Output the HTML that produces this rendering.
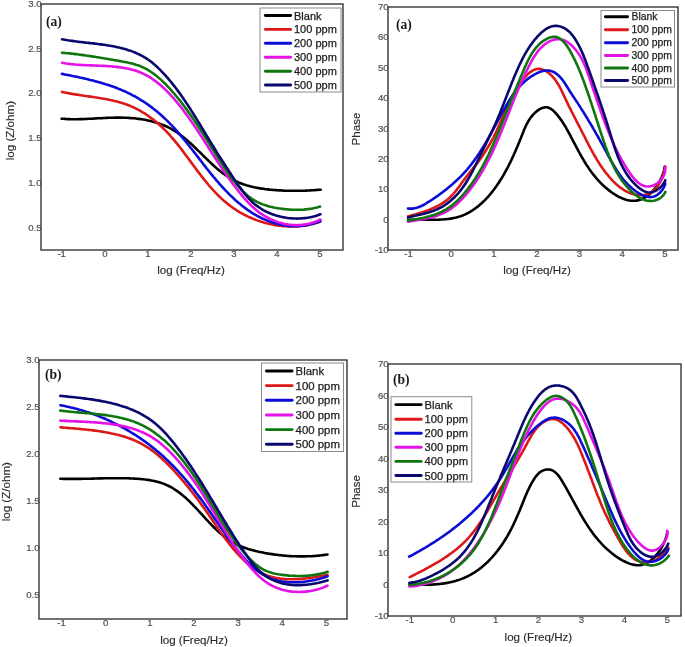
<!DOCTYPE html><html><head><meta charset="utf-8"><style>html,body{margin:0;padding:0;background:#fff;width:685px;height:647px;overflow:hidden}svg{display:block;filter:blur(0.45px)}text{font-family:"Liberation Sans",sans-serif}.t{font-size:9.6px;fill:#505050;stroke:#505050;stroke-width:0.2px}.ax{font-size:11.6px;fill:#2a2a2a;stroke:#2a2a2a;stroke-width:0.15px}.lg{font-size:11px;fill:#1c1c1c;stroke:#1c1c1c;stroke-width:0.25px}.ab{font-family:"Liberation Serif",serif;font-weight:bold;font-size:13.6px;fill:#1a1a1a}</style></head><body>
<svg width="685" height="647" viewBox="0 0 685 647">
<path d="M61.6,118.7 L63.1,118.8 L64.6,118.9 L66.1,119.0 L67.6,119.1 L69.1,119.1 L70.6,119.2 L72.1,119.2 L73.6,119.2 L75.1,119.2 L76.6,119.2 L78.1,119.2 L79.6,119.1 L81.1,119.1 L82.6,119.1 L84.1,119.0 L85.6,119.0 L87.2,118.9 L88.7,118.8 L90.2,118.7 L91.7,118.7 L93.2,118.6 L94.7,118.5 L96.2,118.4 L97.7,118.3 L99.3,118.3 L100.8,118.2 L102.3,118.1 L103.8,118.0 L105.3,118.0 L106.8,117.9 L108.4,117.8 L109.9,117.8 L111.4,117.7 L112.9,117.7 L114.5,117.6 L116.0,117.6 L117.5,117.6 L119.0,117.6 L120.6,117.6 L122.1,117.6 L123.6,117.7 L125.1,117.7 L126.7,117.8 L128.2,117.9 L129.7,118.0 L131.2,118.1 L132.8,118.2 L134.3,118.3 L135.8,118.5 L137.3,118.7 L138.8,118.9 L140.3,119.1 L141.8,119.3 L143.3,119.5 L144.8,119.8 L146.3,120.1 L147.8,120.4 L149.3,120.7 L150.8,121.1 L152.2,121.5 L153.7,121.9 L155.1,122.3 L156.5,122.7 L158.0,123.2 L159.4,123.6 L160.8,124.2 L162.2,124.7 L163.6,125.2 L164.9,125.8 L166.3,126.4 L167.6,127.0 L168.9,127.7 L170.3,128.4 L171.6,129.1 L172.8,129.8 L174.1,130.6 L175.4,131.4 L176.6,132.2 L177.8,133.0 L179.0,133.9 L180.3,134.8 L181.4,135.7 L182.6,136.6 L183.8,137.5 L185.0,138.5 L186.1,139.5 L187.3,140.4 L188.4,141.4 L189.5,142.4 L190.7,143.5 L191.8,144.5 L192.9,145.5 L194.0,146.6 L195.1,147.7 L196.2,148.7 L197.3,149.8 L198.4,150.9 L199.5,151.9 L200.6,153.0 L201.7,154.1 L202.8,155.2 L203.9,156.3 L205.0,157.3 L206.1,158.4 L207.1,159.5 L208.3,160.5 L209.4,161.6 L210.5,162.7 L211.6,163.7 L212.7,164.7 L213.8,165.8 L215.0,166.8 L216.1,167.8 L217.2,168.7 L218.4,169.7 L219.6,170.7 L220.7,171.6 L221.9,172.5 L223.1,173.4 L224.3,174.3 L225.5,175.2 L226.8,176.0 L228.0,176.8 L229.2,177.6 L230.5,178.4 L231.8,179.1 L233.1,179.8 L234.4,180.5 L235.7,181.2 L237.1,181.8 L238.5,182.4 L239.8,182.9 L241.2,183.5 L242.6,184.0 L244.1,184.5 L245.5,184.9 L246.9,185.4 L248.4,185.8 L249.8,186.2 L251.3,186.6 L252.8,186.9 L254.3,187.3 L255.8,187.6 L257.3,187.9 L258.8,188.1 L260.3,188.4 L261.8,188.6 L263.4,188.8 L264.9,189.1 L266.4,189.2 L268.0,189.4 L269.5,189.6 L271.1,189.7 L272.6,189.9 L274.1,190.0 L275.7,190.1 L277.2,190.3 L278.8,190.4 L280.3,190.4 L281.9,190.5 L283.4,190.6 L284.9,190.7 L286.5,190.7 L288.0,190.8 L289.5,190.8 L291.1,190.8 L292.6,190.8 L294.1,190.8 L295.6,190.8 L297.1,190.8 L298.7,190.8 L300.2,190.8 L301.7,190.8 L303.2,190.7 L304.7,190.7 L306.2,190.6 L307.7,190.5 L309.2,190.5 L310.6,190.4 L312.1,190.3 L313.6,190.2 L315.0,190.1 L316.5,190.0 L318.0,189.9 L319.4,189.8 L320.8,189.7" fill="none" stroke="#000000" stroke-width="2.6" stroke-linecap="round" stroke-linejoin="round"/>
<path d="M62.0,91.9 L63.4,92.2 L64.8,92.5 L66.3,92.8 L67.7,93.1 L69.2,93.4 L70.7,93.6 L72.1,93.9 L73.6,94.1 L75.1,94.4 L76.6,94.6 L78.1,94.8 L79.6,95.1 L81.1,95.3 L82.6,95.5 L84.1,95.7 L85.6,96.0 L87.1,96.2 L88.6,96.4 L90.2,96.6 L91.7,96.8 L93.2,97.0 L94.7,97.3 L96.2,97.5 L97.7,97.7 L99.3,98.0 L100.8,98.2 L102.3,98.5 L103.8,98.7 L105.3,99.0 L106.8,99.3 L108.3,99.6 L109.8,99.9 L111.3,100.2 L112.8,100.5 L114.2,100.9 L115.7,101.2 L117.2,101.6 L118.6,102.0 L120.1,102.4 L121.5,102.8 L122.9,103.3 L124.4,103.8 L125.8,104.2 L127.2,104.7 L128.6,105.3 L130.0,105.8 L131.3,106.4 L132.7,107.0 L134.1,107.6 L135.4,108.3 L136.7,108.9 L138.0,109.6 L139.4,110.3 L140.7,111.0 L141.9,111.8 L143.2,112.6 L144.5,113.3 L145.7,114.2 L147.0,115.0 L148.2,115.8 L149.4,116.7 L150.6,117.6 L151.8,118.5 L153.0,119.4 L154.2,120.3 L155.3,121.2 L156.5,122.2 L157.6,123.2 L158.8,124.2 L159.9,125.2 L161.0,126.2 L162.1,127.2 L163.2,128.2 L164.2,129.3 L165.3,130.4 L166.3,131.4 L167.4,132.5 L168.4,133.6 L169.4,134.7 L170.4,135.9 L171.4,137.0 L172.4,138.1 L173.4,139.3 L174.3,140.4 L175.3,141.6 L176.3,142.8 L177.2,143.9 L178.2,145.1 L179.1,146.3 L180.0,147.5 L181.0,148.7 L181.9,149.9 L182.8,151.1 L183.7,152.3 L184.6,153.6 L185.5,154.8 L186.5,156.0 L187.4,157.2 L188.3,158.4 L189.2,159.7 L190.1,160.9 L191.0,162.1 L191.9,163.4 L192.8,164.6 L193.7,165.8 L194.6,167.0 L195.5,168.3 L196.4,169.5 L197.3,170.7 L198.2,171.9 L199.1,173.1 L200.1,174.3 L201.0,175.5 L201.9,176.7 L202.9,177.9 L203.8,179.1 L204.8,180.3 L205.7,181.5 L206.7,182.7 L207.6,183.8 L208.6,185.0 L209.6,186.1 L210.6,187.3 L211.6,188.4 L212.6,189.5 L213.6,190.6 L214.6,191.7 L215.7,192.8 L216.7,193.9 L217.8,195.0 L218.8,196.0 L219.9,197.0 L221.0,198.1 L222.1,199.1 L223.2,200.1 L224.3,201.1 L225.5,202.0 L226.6,203.0 L227.8,203.9 L228.9,204.9 L230.1,205.8 L231.3,206.7 L232.5,207.5 L233.7,208.4 L235.0,209.2 L236.2,210.0 L237.5,210.8 L238.8,211.6 L240.0,212.4 L241.3,213.1 L242.7,213.9 L244.0,214.6 L245.3,215.3 L246.7,215.9 L248.0,216.6 L249.4,217.2 L250.8,217.8 L252.2,218.4 L253.6,219.0 L255.0,219.5 L256.4,220.1 L257.8,220.6 L259.2,221.1 L260.7,221.6 L262.1,222.0 L263.6,222.4 L265.0,222.9 L266.5,223.3 L268.0,223.6 L269.5,224.0 L271.0,224.3 L272.4,224.6 L273.9,224.9 L275.4,225.1 L276.9,225.4 L278.4,225.6 L280.0,225.8 L281.5,226.0 L283.0,226.1 L284.5,226.2 L286.0,226.3 L287.5,226.4 L289.0,226.5 L290.6,226.5 L292.1,226.5 L293.6,226.5 L295.1,226.4 L296.6,226.4 L298.1,226.3 L299.6,226.2 L301.1,226.0 L302.6,225.8 L304.1,225.6 L305.6,225.4 L307.0,225.2 L308.5,224.9 L310.0,224.6 L311.4,224.3 L312.9,223.9 L314.3,223.5 L315.8,223.1 L317.2,222.7 L318.6,222.2 L320.0,221.7" fill="none" stroke="#dd1818" stroke-width="2.6" stroke-linecap="round" stroke-linejoin="round"/>
<path d="M61.9,73.9 L63.4,74.1 L64.8,74.4 L66.3,74.7 L67.8,75.0 L69.2,75.3 L70.7,75.6 L72.2,75.9 L73.7,76.2 L75.1,76.5 L76.6,76.8 L78.1,77.1 L79.6,77.5 L81.1,77.8 L82.5,78.1 L84.0,78.4 L85.5,78.8 L87.0,79.1 L88.5,79.5 L90.0,79.9 L91.4,80.2 L92.9,80.6 L94.4,81.0 L95.9,81.4 L97.4,81.8 L98.8,82.2 L100.3,82.6 L101.8,83.0 L103.2,83.5 L104.7,83.9 L106.1,84.4 L107.6,84.8 L109.0,85.3 L110.5,85.8 L111.9,86.3 L113.4,86.8 L114.8,87.3 L116.2,87.8 L117.6,88.4 L119.0,89.0 L120.4,89.5 L121.8,90.1 L123.2,90.7 L124.6,91.3 L126.0,91.9 L127.4,92.6 L128.7,93.2 L130.1,93.9 L131.4,94.6 L132.7,95.3 L134.1,96.0 L135.4,96.7 L136.7,97.5 L138.0,98.2 L139.3,99.0 L140.6,99.8 L141.8,100.6 L143.1,101.4 L144.4,102.2 L145.6,103.0 L146.9,103.9 L148.1,104.7 L149.3,105.6 L150.5,106.5 L151.7,107.4 L152.9,108.3 L154.1,109.2 L155.3,110.2 L156.4,111.1 L157.6,112.1 L158.7,113.0 L159.9,114.0 L161.0,115.0 L162.1,116.0 L163.2,117.0 L164.3,118.0 L165.4,119.1 L166.5,120.1 L167.6,121.1 L168.6,122.2 L169.7,123.3 L170.7,124.3 L171.8,125.4 L172.8,126.5 L173.8,127.6 L174.8,128.7 L175.8,129.8 L176.8,130.9 L177.8,132.1 L178.8,133.2 L179.8,134.3 L180.7,135.5 L181.7,136.6 L182.7,137.8 L183.6,138.9 L184.6,140.1 L185.5,141.3 L186.5,142.4 L187.4,143.6 L188.3,144.8 L189.3,146.0 L190.2,147.2 L191.1,148.3 L192.1,149.5 L193.0,150.7 L193.9,151.9 L194.9,153.1 L195.8,154.3 L196.7,155.5 L197.6,156.7 L198.6,157.9 L199.5,159.1 L200.4,160.3 L201.3,161.5 L202.3,162.7 L203.2,164.0 L204.1,165.2 L205.1,166.4 L206.0,167.6 L207.0,168.8 L207.9,170.0 L208.9,171.1 L209.8,172.3 L210.8,173.5 L211.7,174.7 L212.7,175.9 L213.7,177.1 L214.7,178.2 L215.7,179.4 L216.6,180.6 L217.6,181.7 L218.7,182.9 L219.7,184.1 L220.7,185.2 L221.7,186.3 L222.8,187.5 L223.8,188.6 L224.8,189.7 L225.9,190.8 L227.0,191.9 L228.0,193.0 L229.1,194.1 L230.2,195.2 L231.3,196.2 L232.4,197.3 L233.5,198.3 L234.6,199.4 L235.8,200.4 L236.9,201.4 L238.1,202.4 L239.2,203.3 L240.4,204.3 L241.5,205.2 L242.7,206.2 L243.9,207.1 L245.1,208.0 L246.3,208.9 L247.5,209.8 L248.8,210.6 L250.0,211.4 L251.2,212.3 L252.5,213.1 L253.8,213.8 L255.0,214.6 L256.3,215.3 L257.6,216.1 L258.9,216.8 L260.2,217.4 L261.6,218.1 L262.9,218.7 L264.3,219.3 L265.6,219.9 L267.0,220.5 L268.4,221.0 L269.8,221.6 L271.1,222.1 L272.6,222.5 L274.0,223.0 L275.4,223.4 L276.8,223.8 L278.3,224.1 L279.7,224.5 L281.2,224.8 L282.7,225.1 L284.1,225.3 L285.6,225.5 L287.1,225.7 L288.6,225.9 L290.1,226.0 L291.6,226.1 L293.1,226.1 L294.6,226.2 L296.1,226.2 L297.6,226.1 L299.1,226.0 L300.6,225.9 L302.2,225.8 L303.7,225.6 L305.2,225.4 L306.8,225.1 L308.3,224.8 L309.8,224.5 L311.3,224.1 L312.9,223.7 L314.4,223.3 L315.9,222.8 L317.4,222.2 L319.0,221.7 L320.5,221.0" fill="none" stroke="#0c0cd8" stroke-width="2.6" stroke-linecap="round" stroke-linejoin="round"/>
<path d="M62.1,62.7 L63.5,63.0 L64.9,63.3 L66.4,63.5 L67.8,63.7 L69.3,63.9 L70.7,64.1 L72.2,64.2 L73.7,64.4 L75.2,64.5 L76.7,64.7 L78.2,64.8 L79.7,64.9 L81.2,65.0 L82.7,65.0 L84.3,65.1 L85.8,65.2 L87.3,65.3 L88.9,65.3 L90.4,65.4 L91.9,65.4 L93.5,65.5 L95.0,65.5 L96.6,65.6 L98.1,65.7 L99.7,65.7 L101.2,65.8 L102.8,65.9 L104.3,65.9 L105.9,66.0 L107.4,66.1 L109.0,66.2 L110.5,66.3 L112.1,66.4 L113.6,66.6 L115.1,66.7 L116.6,66.9 L118.2,67.1 L119.7,67.3 L121.2,67.5 L122.7,67.7 L124.2,67.9 L125.7,68.2 L127.2,68.5 L128.7,68.8 L130.1,69.2 L131.6,69.5 L133.0,69.9 L134.5,70.3 L135.9,70.8 L137.3,71.3 L138.7,71.8 L140.0,72.3 L141.4,72.9 L142.7,73.5 L144.1,74.1 L145.4,74.8 L146.7,75.5 L148.0,76.2 L149.2,76.9 L150.5,77.7 L151.7,78.5 L152.9,79.3 L154.2,80.2 L155.4,81.1 L156.5,82.0 L157.7,82.9 L158.9,83.8 L160.0,84.8 L161.2,85.8 L162.3,86.8 L163.4,87.8 L164.5,88.8 L165.6,89.9 L166.7,90.9 L167.7,92.0 L168.8,93.1 L169.8,94.2 L170.8,95.3 L171.9,96.4 L172.9,97.5 L173.9,98.7 L174.9,99.8 L175.9,101.0 L176.8,102.1 L177.8,103.3 L178.8,104.5 L179.7,105.7 L180.7,106.9 L181.6,108.0 L182.5,109.2 L183.4,110.4 L184.3,111.7 L185.2,112.9 L186.1,114.1 L187.0,115.3 L187.9,116.5 L188.8,117.8 L189.7,119.0 L190.5,120.2 L191.4,121.5 L192.3,122.7 L193.1,124.0 L194.0,125.2 L194.8,126.5 L195.7,127.7 L196.5,129.0 L197.3,130.3 L198.2,131.5 L199.0,132.8 L199.8,134.1 L200.6,135.3 L201.5,136.6 L202.3,137.9 L203.1,139.2 L203.9,140.4 L204.7,141.7 L205.5,143.0 L206.4,144.3 L207.2,145.5 L208.0,146.8 L208.8,148.1 L209.6,149.4 L210.4,150.6 L211.2,151.9 L212.0,153.2 L212.9,154.5 L213.7,155.7 L214.5,157.0 L215.3,158.3 L216.1,159.5 L217.0,160.8 L217.8,162.1 L218.6,163.3 L219.5,164.6 L220.3,165.9 L221.1,167.1 L222.0,168.4 L222.8,169.6 L223.7,170.9 L224.5,172.1 L225.4,173.3 L226.3,174.6 L227.1,175.8 L228.0,177.0 L228.9,178.3 L229.8,179.5 L230.6,180.7 L231.5,181.9 L232.4,183.2 L233.3,184.4 L234.2,185.6 L235.2,186.8 L236.1,188.0 L237.0,189.2 L237.9,190.4 L238.9,191.6 L239.8,192.8 L240.8,194.0 L241.7,195.1 L242.7,196.3 L243.7,197.5 L244.6,198.6 L245.6,199.7 L246.7,200.9 L247.7,202.0 L248.7,203.1 L249.8,204.2 L250.8,205.2 L251.9,206.3 L253.0,207.3 L254.2,208.3 L255.3,209.3 L256.5,210.2 L257.6,211.2 L258.8,212.1 L260.0,213.0 L261.3,213.8 L262.5,214.7 L263.8,215.5 L265.1,216.2 L266.4,217.0 L267.7,217.7 L269.1,218.4 L270.4,219.1 L271.8,219.7 L273.2,220.3 L274.6,220.9 L276.0,221.4 L277.4,221.9 L278.8,222.4 L280.3,222.8 L281.7,223.2 L283.2,223.6 L284.7,223.9 L286.1,224.2 L287.6,224.4 L289.1,224.7 L290.6,224.8 L292.1,225.0 L293.6,225.1 L295.1,225.1 L296.6,225.2 L298.1,225.1 L299.6,225.1 L301.1,225.0 L302.6,224.8 L304.1,224.6 L305.6,224.4 L307.1,224.1 L308.6,223.8 L310.1,223.4 L311.5,223.0 L313.0,222.6 L314.5,222.1 L316.0,221.5 L317.4,220.9 L318.9,220.2 L320.3,219.5" fill="none" stroke="#e412e8" stroke-width="2.6" stroke-linecap="round" stroke-linejoin="round"/>
<path d="M62.0,52.8 L63.5,52.9 L65.0,53.0 L66.5,53.2 L68.0,53.3 L69.5,53.4 L71.0,53.6 L72.5,53.8 L74.0,53.9 L75.5,54.1 L77.0,54.3 L78.5,54.5 L80.0,54.7 L81.5,54.9 L83.0,55.1 L84.4,55.3 L85.9,55.5 L87.4,55.7 L88.9,55.9 L90.4,56.1 L91.8,56.4 L93.3,56.6 L94.8,56.8 L96.3,57.1 L97.8,57.3 L99.3,57.5 L100.8,57.8 L102.2,58.0 L103.7,58.3 L105.2,58.5 L106.7,58.8 L108.2,59.0 L109.7,59.3 L111.2,59.6 L112.7,59.8 L114.2,60.1 L115.7,60.3 L117.2,60.6 L118.7,60.9 L120.2,61.1 L121.7,61.4 L123.2,61.7 L124.7,62.0 L126.3,62.3 L127.8,62.6 L129.2,62.9 L130.7,63.2 L132.2,63.6 L133.7,64.0 L135.1,64.4 L136.6,64.9 L138.0,65.3 L139.4,65.8 L140.8,66.4 L142.1,67.0 L143.5,67.6 L144.8,68.3 L146.1,68.9 L147.4,69.7 L148.7,70.4 L149.9,71.2 L151.2,72.0 L152.4,72.8 L153.6,73.7 L154.8,74.6 L156.0,75.5 L157.1,76.4 L158.3,77.4 L159.4,78.4 L160.5,79.4 L161.6,80.4 L162.7,81.4 L163.8,82.5 L164.9,83.5 L166.0,84.6 L167.0,85.7 L168.0,86.8 L169.1,87.9 L170.1,89.0 L171.1,90.1 L172.1,91.3 L173.1,92.4 L174.1,93.5 L175.1,94.7 L176.0,95.9 L177.0,97.0 L177.9,98.2 L178.9,99.4 L179.8,100.5 L180.8,101.7 L181.7,102.9 L182.6,104.1 L183.5,105.3 L184.4,106.5 L185.3,107.7 L186.2,108.9 L187.1,110.1 L188.0,111.4 L188.8,112.6 L189.7,113.8 L190.6,115.1 L191.4,116.3 L192.3,117.5 L193.1,118.8 L194.0,120.0 L194.8,121.3 L195.7,122.5 L196.5,123.8 L197.3,125.0 L198.2,126.3 L199.0,127.6 L199.8,128.8 L200.6,130.1 L201.5,131.4 L202.3,132.6 L203.1,133.9 L203.9,135.2 L204.7,136.5 L205.5,137.7 L206.3,139.0 L207.1,140.3 L207.9,141.6 L208.7,142.8 L209.5,144.1 L210.3,145.4 L211.1,146.7 L211.9,148.0 L212.7,149.3 L213.5,150.5 L214.3,151.8 L215.1,153.1 L215.9,154.4 L216.7,155.7 L217.5,156.9 L218.3,158.2 L219.1,159.5 L220.0,160.8 L220.8,162.0 L221.6,163.3 L222.4,164.6 L223.3,165.8 L224.1,167.1 L224.9,168.3 L225.8,169.6 L226.6,170.8 L227.5,172.1 L228.4,173.3 L229.2,174.5 L230.1,175.8 L231.0,177.0 L231.9,178.2 L232.8,179.4 L233.7,180.6 L234.7,181.8 L235.6,183.0 L236.5,184.1 L237.5,185.3 L238.5,186.4 L239.5,187.6 L240.5,188.7 L241.5,189.8 L242.5,190.9 L243.6,191.9 L244.7,192.9 L245.7,193.9 L246.9,194.9 L248.0,195.9 L249.1,196.8 L250.3,197.7 L251.5,198.5 L252.7,199.3 L254.0,200.1 L255.3,200.9 L256.6,201.6 L257.9,202.3 L259.2,202.9 L260.6,203.5 L262.0,204.1 L263.4,204.6 L264.8,205.1 L266.3,205.5 L267.7,206.0 L269.2,206.4 L270.7,206.8 L272.2,207.1 L273.7,207.5 L275.2,207.8 L276.7,208.0 L278.2,208.3 L279.8,208.5 L281.3,208.7 L282.8,208.9 L284.3,209.1 L285.8,209.3 L287.4,209.4 L288.9,209.5 L290.4,209.6 L291.9,209.7 L293.4,209.8 L294.9,209.8 L296.4,209.8 L297.9,209.8 L299.4,209.8 L300.9,209.7 L302.4,209.7 L303.9,209.6 L305.3,209.4 L306.8,209.3 L308.3,209.1 L309.8,208.9 L311.3,208.7 L312.7,208.4 L314.2,208.1 L315.7,207.8 L317.1,207.4 L318.6,207.1 L320.1,206.6" fill="none" stroke="#0f760f" stroke-width="2.6" stroke-linecap="round" stroke-linejoin="round"/>
<path d="M62.1,39.3 L63.5,39.5 L64.9,39.8 L66.3,40.0 L67.7,40.3 L69.2,40.5 L70.6,40.7 L72.1,40.9 L73.5,41.1 L75.0,41.3 L76.5,41.5 L78.0,41.7 L79.5,41.9 L81.0,42.0 L82.5,42.2 L84.0,42.4 L85.5,42.6 L87.1,42.7 L88.6,42.9 L90.1,43.1 L91.6,43.3 L93.2,43.4 L94.7,43.6 L96.3,43.8 L97.8,44.0 L99.3,44.2 L100.9,44.4 L102.4,44.6 L103.9,44.8 L105.5,45.0 L107.0,45.3 L108.5,45.5 L110.1,45.8 L111.6,46.0 L113.1,46.3 L114.6,46.6 L116.1,46.9 L117.6,47.2 L119.1,47.6 L120.6,47.9 L122.1,48.3 L123.5,48.7 L125.0,49.1 L126.4,49.5 L127.9,50.0 L129.3,50.4 L130.7,50.9 L132.1,51.4 L133.5,51.9 L134.9,52.5 L136.3,53.1 L137.6,53.7 L139.0,54.3 L140.3,55.0 L141.6,55.6 L142.9,56.3 L144.2,57.1 L145.5,57.8 L146.7,58.6 L147.9,59.5 L149.2,60.3 L150.4,61.2 L151.5,62.1 L152.7,63.1 L153.8,64.0 L155.0,65.0 L156.1,66.0 L157.2,67.0 L158.3,68.1 L159.4,69.1 L160.4,70.2 L161.5,71.3 L162.5,72.3 L163.5,73.5 L164.6,74.6 L165.6,75.7 L166.6,76.8 L167.6,77.9 L168.6,79.1 L169.5,80.2 L170.5,81.4 L171.4,82.5 L172.4,83.7 L173.3,84.9 L174.3,86.1 L175.2,87.3 L176.1,88.5 L177.0,89.7 L177.9,90.9 L178.8,92.1 L179.7,93.3 L180.6,94.5 L181.4,95.8 L182.3,97.0 L183.2,98.2 L184.0,99.5 L184.9,100.7 L185.7,102.0 L186.5,103.3 L187.4,104.5 L188.2,105.8 L189.0,107.0 L189.9,108.3 L190.7,109.6 L191.5,110.9 L192.3,112.1 L193.1,113.4 L193.9,114.7 L194.7,116.0 L195.5,117.3 L196.3,118.6 L197.1,119.9 L197.9,121.2 L198.7,122.5 L199.5,123.7 L200.2,125.0 L201.0,126.3 L201.8,127.6 L202.6,128.9 L203.4,130.2 L204.1,131.5 L204.9,132.8 L205.7,134.1 L206.5,135.4 L207.3,136.7 L208.1,138.0 L208.8,139.3 L209.6,140.6 L210.4,141.9 L211.2,143.1 L212.0,144.4 L212.8,145.7 L213.6,147.0 L214.4,148.3 L215.1,149.5 L215.9,150.8 L216.7,152.1 L217.5,153.4 L218.3,154.6 L219.1,155.9 L219.9,157.2 L220.8,158.4 L221.6,159.7 L222.4,161.0 L223.2,162.2 L224.0,163.5 L224.8,164.8 L225.6,166.0 L226.4,167.3 L227.3,168.6 L228.1,169.8 L228.9,171.1 L229.7,172.3 L230.6,173.6 L231.4,174.9 L232.2,176.1 L233.1,177.4 L233.9,178.6 L234.8,179.9 L235.6,181.2 L236.5,182.4 L237.3,183.7 L238.2,184.9 L239.0,186.2 L239.9,187.4 L240.8,188.6 L241.7,189.8 L242.6,191.1 L243.5,192.2 L244.4,193.4 L245.4,194.6 L246.4,195.7 L247.3,196.9 L248.3,198.0 L249.3,199.1 L250.4,200.1 L251.4,201.2 L252.5,202.2 L253.6,203.2 L254.7,204.2 L255.9,205.1 L257.1,206.0 L258.3,206.9 L259.5,207.7 L260.8,208.5 L262.0,209.3 L263.3,210.1 L264.7,210.8 L266.0,211.5 L267.4,212.1 L268.7,212.7 L270.1,213.3 L271.5,213.9 L273.0,214.4 L274.4,214.9 L275.9,215.4 L277.3,215.8 L278.8,216.2 L280.3,216.6 L281.8,216.9 L283.3,217.2 L284.8,217.5 L286.3,217.8 L287.8,218.0 L289.3,218.2 L290.9,218.3 L292.4,218.4 L293.9,218.5 L295.4,218.5 L297.0,218.6 L298.5,218.5 L300.0,218.5 L301.5,218.4 L303.0,218.3 L304.5,218.1 L306.0,218.0 L307.5,217.7 L309.0,217.5 L310.5,217.2 L311.9,216.9 L313.4,216.6 L314.8,216.2 L316.3,215.8 L317.7,215.3 L319.0,214.8 L320.4,214.3" fill="none" stroke="#08086e" stroke-width="2.6" stroke-linecap="round" stroke-linejoin="round"/>
<rect x="41.0" y="4.0" width="302.0" height="246.0" fill="none" stroke="#262626" stroke-width="1.3"/>
<text class="t" x="41.6" y="7.0" text-anchor="end">3.0</text>
<text class="t" x="41.6" y="51.7" text-anchor="end">2.5</text>
<text class="t" x="41.6" y="96.4" text-anchor="end">2.0</text>
<text class="t" x="41.6" y="141.1" text-anchor="end">1.5</text>
<text class="t" x="41.6" y="185.8" text-anchor="end">1.0</text>
<text class="t" x="41.6" y="230.5" text-anchor="end">0.5</text>
<text class="t" x="61.7" y="256.7" text-anchor="middle">-1</text>
<text class="t" x="104.8" y="256.7" text-anchor="middle">0</text>
<text class="t" x="147.8" y="256.7" text-anchor="middle">1</text>
<text class="t" x="190.8" y="256.7" text-anchor="middle">2</text>
<text class="t" x="233.9" y="256.7" text-anchor="middle">3</text>
<text class="t" x="276.9" y="256.7" text-anchor="middle">4</text>
<text class="t" x="320.0" y="256.7" text-anchor="middle">5</text>
<text class="ax" x="191.0" y="273.6" text-anchor="middle">log (Freq/Hz)</text>
<text class="ax" transform="translate(13.5,130.6) rotate(-90)" text-anchor="middle">log (Z/ohm)</text>
<text class="ab" x="46.0" y="25.6">(a)</text>
<rect x="260.0" y="8.0" width="81.0" height="84.0" fill="#fff" stroke="#8a8a8a" stroke-width="1"/>
<line x1="265.4" y1="15.5" x2="290.6" y2="15.5" stroke="#000000" stroke-width="2.9" stroke-linecap="round"/>
<text class="lg" style="font-size:11.0px" x="294.0" y="19.5">Blank</text>
<line x1="265.4" y1="29.4" x2="290.6" y2="29.4" stroke="#dd1818" stroke-width="2.9" stroke-linecap="round"/>
<text class="lg" style="font-size:11.0px" x="294.0" y="33.4">100 ppm</text>
<line x1="265.4" y1="43.3" x2="290.6" y2="43.3" stroke="#0c0cd8" stroke-width="2.9" stroke-linecap="round"/>
<text class="lg" style="font-size:11.0px" x="294.0" y="47.3">200 ppm</text>
<line x1="265.4" y1="57.3" x2="290.6" y2="57.3" stroke="#e412e8" stroke-width="2.9" stroke-linecap="round"/>
<text class="lg" style="font-size:11.0px" x="294.0" y="61.3">300 ppm</text>
<line x1="265.4" y1="71.2" x2="290.6" y2="71.2" stroke="#0f760f" stroke-width="2.9" stroke-linecap="round"/>
<text class="lg" style="font-size:11.0px" x="294.0" y="75.2">400 ppm</text>
<line x1="265.4" y1="85.0" x2="290.6" y2="85.0" stroke="#08086e" stroke-width="2.9" stroke-linecap="round"/>
<text class="lg" style="font-size:11.0px" x="294.0" y="89.0">500 ppm</text>
<path d="M408.2,220.1 L409.6,220.0 L411.0,219.9 L412.4,219.8 L413.8,219.8 L415.3,219.7 L416.7,219.7 L418.2,219.7 L419.7,219.7 L421.2,219.7 L422.7,219.7 L424.2,219.7 L425.8,219.7 L427.3,219.7 L428.9,219.8 L430.4,219.8 L432.0,219.8 L433.5,219.8 L435.1,219.7 L436.6,219.7 L438.2,219.7 L439.7,219.6 L441.3,219.5 L442.8,219.5 L444.4,219.3 L445.9,219.2 L447.5,219.0 L449.0,218.9 L450.5,218.6 L452.0,218.4 L453.5,218.1 L454.9,217.8 L456.4,217.5 L457.8,217.1 L459.2,216.6 L460.6,216.2 L462.0,215.7 L463.4,215.1 L464.8,214.6 L466.1,213.9 L467.4,213.3 L468.7,212.6 L470.0,211.9 L471.2,211.1 L472.5,210.3 L473.7,209.5 L474.9,208.7 L476.1,207.8 L477.3,206.9 L478.5,206.0 L479.6,205.0 L480.7,204.0 L481.9,203.0 L482.9,202.0 L484.0,201.0 L485.1,199.9 L486.1,198.8 L487.2,197.7 L488.2,196.6 L489.2,195.4 L490.2,194.3 L491.1,193.1 L492.1,191.9 L493.0,190.7 L494.0,189.5 L494.9,188.3 L495.8,187.0 L496.7,185.8 L497.5,184.5 L498.4,183.3 L499.2,182.0 L500.0,180.7 L500.8,179.4 L501.6,178.2 L502.4,176.9 L503.2,175.6 L503.9,174.3 L504.7,173.0 L505.4,171.6 L506.1,170.3 L506.9,169.0 L507.6,167.7 L508.3,166.3 L508.9,165.0 L509.6,163.6 L510.3,162.3 L510.9,160.9 L511.6,159.6 L512.2,158.2 L512.8,156.9 L513.5,155.5 L514.1,154.1 L514.7,152.7 L515.3,151.4 L515.9,150.0 L516.5,148.6 L517.1,147.2 L517.7,145.8 L518.2,144.5 L518.8,143.1 L519.4,141.7 L519.9,140.3 L520.5,138.9 L521.1,137.5 L521.6,136.1 L522.2,134.7 L522.7,133.3 L523.3,131.9 L523.8,130.5 L524.4,129.1 L525.0,127.8 L525.6,126.4 L526.3,125.0 L527.0,123.7 L527.7,122.4 L528.4,121.1 L529.2,119.8 L530.0,118.6 L530.9,117.3 L531.9,116.1 L532.9,114.9 L534.0,113.8 L535.1,112.7 L536.4,111.6 L537.6,110.6 L539.0,109.7 L540.3,108.9 L541.7,108.2 L543.1,107.7 L544.5,107.4 L545.9,107.2 L547.2,107.3 L548.5,107.7 L549.7,108.2 L550.9,108.8 L552.1,109.7 L553.2,110.6 L554.3,111.6 L555.4,112.8 L556.4,113.9 L557.5,115.2 L558.4,116.4 L559.4,117.6 L560.3,118.9 L561.2,120.1 L562.1,121.4 L562.9,122.7 L563.7,124.0 L564.5,125.2 L565.3,126.5 L566.1,127.8 L566.8,129.1 L567.6,130.5 L568.3,131.8 L569.0,133.1 L569.7,134.4 L570.4,135.7 L571.1,137.1 L571.8,138.4 L572.5,139.7 L573.2,141.1 L573.9,142.4 L574.6,143.7 L575.3,145.0 L576.0,146.4 L576.7,147.7 L577.4,149.0 L578.1,150.3 L578.8,151.7 L579.5,153.0 L580.2,154.3 L581.0,155.6 L581.7,156.9 L582.5,158.2 L583.2,159.5 L584.0,160.8 L584.7,162.0 L585.5,163.3 L586.3,164.6 L587.1,165.8 L588.0,167.1 L588.8,168.3 L589.6,169.5 L590.5,170.8 L591.4,172.0 L592.3,173.2 L593.2,174.4 L594.1,175.5 L595.1,176.7 L596.0,177.8 L597.0,179.0 L598.0,180.1 L599.0,181.2 L600.1,182.3 L601.1,183.4 L602.2,184.5 L603.3,185.5 L604.5,186.6 L605.6,187.6 L606.8,188.6 L608.0,189.6 L609.3,190.6 L610.5,191.5 L611.8,192.5 L613.1,193.4 L614.4,194.2 L615.7,195.0 L617.1,195.8 L618.4,196.6 L619.8,197.3 L621.2,197.9 L622.6,198.5 L624.0,199.0 L625.4,199.5 L626.8,199.9 L628.2,200.2 L629.6,200.5 L631.0,200.7 L632.4,200.8 L633.8,200.8 L635.1,200.8 L636.5,200.6 L637.9,200.4 L639.2,200.1 L640.6,199.6 L641.9,199.1 L643.2,198.5 L644.5,197.8 L645.8,197.0 L647.0,196.2 L648.2,195.2 L649.4,194.2 L650.6,193.2 L651.7,192.1 L652.8,190.9 L653.9,189.7 L654.9,188.4 L655.9,187.2 L656.8,185.8 L657.7,184.5 L658.6,183.1 L659.4,181.7 L660.2,180.3 L660.9,178.9 L661.6,177.5 L662.2,176.1 L662.7,174.7 L663.2,173.3 L663.6,171.9 L664.0,170.5 L664.3,169.2 L664.5,167.9 L664.7,166.6" fill="none" stroke="#000000" stroke-width="2.6" stroke-linecap="round" stroke-linejoin="round"/>
<path d="M408.1,216.3 L409.5,216.0 L410.9,215.6 L412.3,215.2 L413.8,214.8 L415.2,214.4 L416.7,213.9 L418.1,213.5 L419.6,213.1 L421.0,212.6 L422.5,212.2 L423.9,211.7 L425.3,211.2 L426.8,210.7 L428.2,210.1 L429.6,209.6 L431.0,209.0 L432.4,208.4 L433.8,207.8 L435.2,207.1 L436.5,206.5 L437.9,205.8 L439.2,205.1 L440.5,204.3 L441.8,203.6 L443.0,202.8 L444.3,201.9 L445.5,201.1 L446.7,200.2 L447.8,199.2 L449.0,198.3 L450.1,197.3 L451.1,196.2 L452.2,195.1 L453.2,194.0 L454.2,192.9 L455.1,191.8 L456.1,190.6 L457.0,189.4 L457.9,188.2 L458.9,187.0 L459.8,185.7 L460.7,184.5 L461.5,183.3 L462.4,182.0 L463.3,180.8 L464.2,179.6 L465.1,178.4 L466.0,177.2 L467.0,176.0 L467.9,174.8 L468.8,173.6 L469.8,172.4 L470.7,171.3 L471.6,170.1 L472.6,169.0 L473.5,167.8 L474.4,166.6 L475.4,165.5 L476.3,164.3 L477.2,163.1 L478.1,161.9 L479.0,160.7 L479.9,159.5 L480.8,158.2 L481.6,157.0 L482.5,155.8 L483.4,154.5 L484.2,153.2 L485.0,152.0 L485.8,150.7 L486.6,149.4 L487.4,148.1 L488.2,146.8 L489.0,145.5 L489.8,144.2 L490.5,142.9 L491.2,141.6 L492.0,140.2 L492.7,138.9 L493.4,137.6 L494.1,136.2 L494.7,134.9 L495.4,133.5 L496.1,132.2 L496.7,130.8 L497.3,129.4 L497.9,128.1 L498.5,126.7 L499.2,125.3 L499.7,123.9 L500.3,122.6 L500.9,121.2 L501.5,119.8 L502.1,118.4 L502.7,117.0 L503.3,115.7 L503.8,114.3 L504.4,112.9 L505.0,111.5 L505.6,110.1 L506.2,108.8 L506.8,107.4 L507.4,106.0 L508.1,104.7 L508.7,103.3 L509.3,101.9 L510.0,100.6 L510.6,99.2 L511.3,97.9 L512.0,96.5 L512.7,95.2 L513.5,93.9 L514.2,92.5 L515.0,91.2 L515.8,89.9 L516.6,88.6 L517.4,87.3 L518.2,86.0 L519.1,84.7 L520.0,83.5 L521.0,82.2 L521.9,81.0 L522.9,79.7 L523.9,78.5 L524.9,77.3 L526.0,76.1 L527.1,74.9 L528.2,73.8 L529.4,72.8 L530.6,71.9 L531.8,71.1 L533.0,70.4 L534.3,69.8 L535.6,69.3 L536.9,69.0 L538.2,68.9 L539.5,68.9 L540.8,69.1 L542.1,69.4 L543.4,69.9 L544.7,70.4 L546.0,71.1 L547.2,71.9 L548.4,72.8 L549.5,73.7 L550.7,74.7 L551.7,75.7 L552.7,76.8 L553.7,77.9 L554.6,79.1 L555.5,80.3 L556.4,81.6 L557.3,82.9 L558.1,84.2 L558.8,85.5 L559.6,86.8 L560.3,88.2 L561.1,89.6 L561.8,91.0 L562.4,92.4 L563.1,93.9 L563.8,95.3 L564.4,96.7 L565.1,98.1 L565.8,99.5 L566.4,100.9 L567.1,102.3 L567.7,103.7 L568.4,105.1 L569.1,106.5 L569.8,107.8 L570.4,109.2 L571.1,110.5 L571.8,111.9 L572.5,113.2 L573.1,114.5 L573.8,115.9 L574.5,117.2 L575.2,118.5 L575.9,119.8 L576.5,121.1 L577.2,122.4 L577.9,123.8 L578.6,125.1 L579.3,126.4 L579.9,127.7 L580.6,129.0 L581.3,130.4 L582.0,131.7 L582.6,133.0 L583.3,134.4 L584.0,135.7 L584.7,137.0 L585.4,138.4 L586.0,139.7 L586.7,141.1 L587.4,142.4 L588.1,143.7 L588.8,145.1 L589.5,146.4 L590.2,147.8 L590.9,149.1 L591.6,150.4 L592.4,151.8 L593.1,153.1 L593.8,154.4 L594.6,155.7 L595.4,157.0 L596.1,158.3 L596.9,159.6 L597.7,160.9 L598.5,162.2 L599.3,163.5 L600.1,164.7 L601.0,166.0 L601.8,167.3 L602.7,168.5 L603.6,169.7 L604.5,170.9 L605.4,172.2 L606.3,173.4 L607.3,174.5 L608.2,175.7 L609.2,176.9 L610.2,178.0 L611.2,179.1 L612.3,180.3 L613.3,181.4 L614.4,182.4 L615.5,183.5 L616.6,184.5 L617.8,185.5 L618.9,186.5 L620.1,187.4 L621.4,188.3 L622.6,189.2 L623.9,190.0 L625.2,190.8 L626.5,191.5 L627.8,192.1 L629.2,192.7 L630.6,193.3 L632.1,193.8 L633.5,194.2 L635.0,194.6 L636.5,194.8 L638.0,195.0 L639.5,195.2 L641.0,195.2 L642.5,195.1 L643.9,195.0 L645.3,194.8 L646.7,194.4 L648.1,194.0 L649.4,193.4 L650.7,192.7 L651.9,192.0 L653.1,191.1 L654.2,190.1 L655.2,189.0 L656.2,187.9 L657.2,186.7 L658.1,185.4 L658.9,184.1 L659.7,182.8 L660.5,181.4 L661.2,179.9 L661.8,178.5 L662.4,177.0 L663.0,175.5 L663.5,174.1 L663.9,172.6 L664.3,171.2 L664.7,169.8 L665.0,168.4 L665.2,167.0" fill="none" stroke="#dd1818" stroke-width="2.6" stroke-linecap="round" stroke-linejoin="round"/>
<path d="M407.9,208.5 L409.5,208.6 L411.0,208.6 L412.4,208.6 L413.9,208.4 L415.3,208.1 L416.7,207.8 L418.1,207.3 L419.4,206.8 L420.8,206.3 L422.1,205.7 L423.4,205.0 L424.7,204.3 L426.0,203.5 L427.2,202.7 L428.5,201.9 L429.8,201.1 L431.0,200.3 L432.3,199.5 L433.5,198.6 L434.8,197.8 L436.0,196.9 L437.3,196.1 L438.5,195.2 L439.7,194.3 L441.0,193.4 L442.2,192.5 L443.4,191.6 L444.6,190.6 L445.8,189.7 L447.0,188.7 L448.2,187.8 L449.4,186.8 L450.5,185.8 L451.7,184.9 L452.8,183.9 L454.0,182.8 L455.1,181.8 L456.2,180.8 L457.3,179.8 L458.4,178.7 L459.5,177.7 L460.6,176.6 L461.6,175.5 L462.7,174.4 L463.7,173.3 L464.7,172.2 L465.7,171.1 L466.7,170.0 L467.7,168.9 L468.6,167.7 L469.6,166.5 L470.5,165.4 L471.4,164.2 L472.3,163.0 L473.2,161.8 L474.1,160.6 L475.0,159.4 L475.8,158.2 L476.7,157.0 L477.5,155.8 L478.4,154.5 L479.2,153.3 L480.0,152.0 L480.8,150.8 L481.6,149.5 L482.4,148.2 L483.2,146.9 L484.0,145.7 L484.7,144.4 L485.5,143.1 L486.3,141.8 L487.0,140.5 L487.8,139.2 L488.5,137.9 L489.2,136.5 L490.0,135.2 L490.7,133.9 L491.4,132.6 L492.2,131.2 L492.9,129.9 L493.6,128.6 L494.3,127.2 L495.1,125.9 L495.8,124.6 L496.5,123.2 L497.2,121.9 L498.0,120.5 L498.7,119.2 L499.4,117.8 L500.1,116.5 L500.9,115.1 L501.6,113.8 L502.3,112.4 L503.1,111.1 L503.8,109.7 L504.6,108.4 L505.4,107.1 L506.1,105.7 L506.9,104.4 L507.7,103.1 L508.5,101.8 L509.3,100.5 L510.1,99.2 L510.9,97.9 L511.8,96.7 L512.6,95.4 L513.5,94.2 L514.4,93.0 L515.3,91.8 L516.2,90.6 L517.1,89.4 L518.1,88.3 L519.1,87.1 L520.1,86.0 L521.1,85.0 L522.1,83.9 L523.2,82.9 L524.3,81.8 L525.4,80.9 L526.5,79.9 L527.7,79.0 L528.8,78.1 L530.1,77.2 L531.3,76.4 L532.6,75.6 L533.9,74.8 L535.2,74.1 L536.6,73.4 L537.9,72.7 L539.4,72.1 L540.8,71.6 L542.2,71.2 L543.7,70.8 L545.1,70.6 L546.6,70.5 L548.0,70.5 L549.4,70.6 L550.8,71.0 L552.2,71.4 L553.6,72.0 L554.9,72.7 L556.1,73.6 L557.3,74.5 L558.5,75.5 L559.6,76.5 L560.6,77.6 L561.6,78.8 L562.6,80.0 L563.5,81.3 L564.4,82.6 L565.3,83.9 L566.1,85.3 L566.9,86.6 L567.8,87.9 L568.6,89.3 L569.4,90.6 L570.2,91.9 L571.1,93.1 L571.9,94.4 L572.7,95.7 L573.6,96.9 L574.4,98.2 L575.2,99.4 L576.0,100.6 L576.9,101.9 L577.7,103.1 L578.5,104.4 L579.3,105.6 L580.1,106.9 L580.9,108.1 L581.7,109.4 L582.5,110.7 L583.3,111.9 L584.1,113.2 L584.9,114.5 L585.6,115.7 L586.4,117.0 L587.2,118.3 L588.0,119.6 L588.7,120.9 L589.5,122.2 L590.3,123.4 L591.0,124.7 L591.8,126.0 L592.6,127.3 L593.3,128.6 L594.1,129.9 L594.8,131.2 L595.6,132.6 L596.3,133.9 L597.1,135.2 L597.8,136.5 L598.6,137.8 L599.3,139.1 L600.0,140.5 L600.8,141.8 L601.5,143.1 L602.2,144.4 L603.0,145.8 L603.7,147.1 L604.4,148.5 L605.1,149.8 L605.9,151.1 L606.6,152.5 L607.3,153.8 L608.0,155.2 L608.8,156.5 L609.5,157.9 L610.2,159.2 L611.0,160.5 L611.7,161.9 L612.5,163.2 L613.2,164.5 L614.0,165.8 L614.8,167.1 L615.6,168.4 L616.4,169.7 L617.2,171.0 L618.0,172.2 L618.9,173.5 L619.7,174.7 L620.6,175.9 L621.5,177.1 L622.4,178.3 L623.4,179.5 L624.3,180.6 L625.3,181.7 L626.3,182.8 L627.3,183.9 L628.4,185.0 L629.5,186.0 L630.6,187.0 L631.7,188.0 L632.9,189.0 L634.1,189.9 L635.3,190.8 L636.5,191.7 L637.8,192.6 L639.1,193.4 L640.5,194.2 L641.8,194.9 L643.2,195.5 L644.6,196.0 L646.0,196.5 L647.4,196.8 L648.8,197.0 L650.2,197.1 L651.6,197.0 L653.0,196.8 L654.4,196.4 L655.7,195.8 L657.0,195.0 L658.3,194.1 L659.5,193.1 L660.6,192.0 L661.7,190.7 L662.6,189.4 L663.5,188.0 L664.2,186.5 L664.9,185.1 L665.3,183.6" fill="none" stroke="#0c0cd8" stroke-width="2.6" stroke-linecap="round" stroke-linejoin="round"/>
<path d="M408.0,221.8 L409.5,221.5 L410.9,221.2 L412.4,221.0 L413.8,220.7 L415.3,220.5 L416.8,220.2 L418.3,220.0 L419.8,219.7 L421.3,219.4 L422.8,219.2 L424.3,218.9 L425.8,218.6 L427.3,218.3 L428.8,217.9 L430.3,217.6 L431.7,217.2 L433.2,216.8 L434.6,216.4 L436.1,215.9 L437.5,215.5 L438.9,215.0 L440.3,214.4 L441.7,213.9 L443.0,213.2 L444.4,212.6 L445.7,211.9 L447.0,211.2 L448.3,210.4 L449.5,209.6 L450.7,208.8 L452.0,207.9 L453.1,207.0 L454.3,206.1 L455.5,205.2 L456.6,204.2 L457.7,203.2 L458.8,202.2 L459.9,201.1 L461.0,200.0 L462.0,199.0 L463.1,197.8 L464.1,196.7 L465.1,195.6 L466.1,194.4 L467.1,193.3 L468.0,192.1 L469.0,190.9 L469.9,189.7 L470.8,188.5 L471.7,187.3 L472.6,186.1 L473.5,184.9 L474.4,183.6 L475.3,182.4 L476.1,181.2 L477.0,179.9 L477.8,178.7 L478.6,177.4 L479.4,176.1 L480.2,174.8 L481.0,173.5 L481.8,172.3 L482.5,171.0 L483.3,169.6 L484.0,168.3 L484.8,167.0 L485.5,165.7 L486.2,164.4 L486.9,163.0 L487.6,161.7 L488.3,160.4 L489.0,159.0 L489.7,157.7 L490.4,156.3 L491.0,155.0 L491.7,153.6 L492.3,152.3 L493.0,150.9 L493.6,149.5 L494.2,148.1 L494.8,146.8 L495.5,145.4 L496.1,144.0 L496.7,142.6 L497.3,141.3 L497.9,139.9 L498.5,138.5 L499.1,137.1 L499.6,135.7 L500.2,134.3 L500.8,132.9 L501.4,131.5 L501.9,130.1 L502.5,128.7 L503.1,127.3 L503.6,125.9 L504.2,124.5 L504.7,123.2 L505.3,121.8 L505.8,120.4 L506.4,119.0 L506.9,117.6 L507.5,116.2 L508.0,114.8 L508.6,113.4 L509.1,112.0 L509.6,110.6 L510.2,109.2 L510.7,107.8 L511.3,106.4 L511.8,105.0 L512.4,103.7 L512.9,102.3 L513.5,100.9 L514.0,99.5 L514.6,98.1 L515.2,96.7 L515.7,95.3 L516.3,93.9 L516.9,92.6 L517.4,91.2 L518.0,89.8 L518.6,88.4 L519.2,87.0 L519.8,85.6 L520.4,84.3 L521.0,82.9 L521.6,81.5 L522.2,80.1 L522.8,78.7 L523.5,77.4 L524.1,76.0 L524.8,74.6 L525.4,73.2 L526.1,71.9 L526.7,70.5 L527.4,69.1 L528.1,67.8 L528.8,66.4 L529.5,65.0 L530.2,63.7 L531.0,62.3 L531.7,60.9 L532.4,59.6 L533.2,58.3 L534.0,57.0 L534.8,55.7 L535.7,54.4 L536.5,53.1 L537.4,51.9 L538.4,50.7 L539.3,49.6 L540.3,48.4 L541.4,47.4 L542.5,46.3 L543.6,45.3 L544.8,44.4 L546.0,43.5 L547.2,42.7 L548.5,41.9 L549.8,41.2 L551.2,40.6 L552.6,40.1 L554.0,39.7 L555.4,39.4 L556.8,39.2 L558.2,39.1 L559.5,39.2 L560.9,39.4 L562.3,39.7 L563.6,40.1 L564.9,40.7 L566.2,41.4 L567.5,42.1 L568.7,43.0 L569.9,43.9 L571.1,44.9 L572.2,46.0 L573.3,47.1 L574.4,48.3 L575.4,49.5 L576.4,50.7 L577.3,51.9 L578.2,53.2 L579.1,54.5 L579.9,55.8 L580.7,57.1 L581.4,58.4 L582.1,59.7 L582.8,61.1 L583.5,62.4 L584.1,63.8 L584.7,65.1 L585.3,66.5 L585.8,67.9 L586.4,69.3 L586.9,70.7 L587.4,72.1 L587.9,73.5 L588.4,75.0 L588.9,76.4 L589.4,77.8 L589.9,79.2 L590.3,80.7 L590.8,82.1 L591.3,83.5 L591.8,85.0 L592.3,86.4 L592.7,87.8 L593.2,89.3 L593.7,90.7 L594.2,92.1 L594.7,93.6 L595.1,95.0 L595.6,96.4 L596.1,97.9 L596.6,99.3 L597.1,100.7 L597.6,102.2 L598.1,103.6 L598.6,105.0 L599.1,106.5 L599.6,107.9 L600.1,109.3 L600.6,110.7 L601.1,112.2 L601.6,113.6 L602.1,115.0 L602.6,116.4 L603.1,117.8 L603.6,119.2 L604.2,120.6 L604.7,122.1 L605.2,123.5 L605.8,124.9 L606.3,126.3 L606.9,127.7 L607.4,129.0 L608.0,130.4 L608.5,131.8 L609.1,133.2 L609.6,134.6 L610.2,136.0 L610.8,137.3 L611.4,138.7 L612.0,140.0 L612.6,141.4 L613.2,142.8 L613.8,144.1 L614.4,145.5 L615.0,146.8 L615.6,148.1 L616.3,149.5 L616.9,150.8 L617.6,152.1 L618.3,153.5 L618.9,154.8 L619.6,156.1 L620.3,157.5 L621.1,158.8 L621.8,160.1 L622.6,161.4 L623.3,162.8 L624.1,164.1 L624.9,165.4 L625.7,166.7 L626.6,168.1 L627.4,169.4 L628.3,170.7 L629.2,172.1 L630.1,173.4 L631.1,174.7 L632.0,176.0 L633.0,177.2 L634.0,178.5 L635.0,179.6 L636.1,180.7 L637.2,181.7 L638.3,182.7 L639.4,183.5 L640.6,184.3 L641.8,185.0 L643.0,185.5 L644.2,186.0 L645.5,186.3 L646.8,186.5 L648.2,186.5 L649.6,186.4 L650.9,186.1 L652.3,185.8 L653.7,185.2 L655.0,184.6 L656.3,183.9 L657.6,183.0 L658.8,182.1 L660.0,181.0 L661.0,179.9 L662.0,178.7 L662.9,177.4 L663.6,176.0 L664.2,174.5 L664.7,173.0 L665.1,171.5 L665.2,169.8 L665.3,168.2 L665.1,166.5" fill="none" stroke="#e412e8" stroke-width="2.6" stroke-linecap="round" stroke-linejoin="round"/>
<path d="M408.0,220.7 L409.5,220.4 L410.9,220.1 L412.4,219.9 L413.9,219.6 L415.4,219.3 L416.9,219.1 L418.4,218.8 L419.9,218.5 L421.4,218.2 L422.9,217.9 L424.3,217.5 L425.8,217.2 L427.3,216.8 L428.8,216.4 L430.2,216.0 L431.7,215.6 L433.1,215.2 L434.5,214.7 L435.9,214.2 L437.3,213.7 L438.7,213.1 L440.1,212.5 L441.5,211.9 L442.8,211.2 L444.1,210.5 L445.4,209.8 L446.7,209.0 L447.9,208.2 L449.2,207.4 L450.4,206.5 L451.6,205.6 L452.8,204.7 L453.9,203.7 L455.1,202.7 L456.2,201.7 L457.3,200.7 L458.4,199.6 L459.5,198.5 L460.5,197.4 L461.6,196.3 L462.6,195.2 L463.6,194.0 L464.6,192.9 L465.6,191.7 L466.5,190.5 L467.5,189.3 L468.4,188.1 L469.3,186.9 L470.2,185.7 L471.1,184.5 L472.0,183.2 L472.9,182.0 L473.7,180.8 L474.6,179.5 L475.4,178.2 L476.2,177.0 L477.0,175.7 L477.8,174.4 L478.6,173.1 L479.4,171.8 L480.2,170.5 L480.9,169.2 L481.7,167.9 L482.4,166.6 L483.1,165.3 L483.8,163.9 L484.5,162.6 L485.2,161.3 L485.9,159.9 L486.6,158.6 L487.3,157.2 L487.9,155.9 L488.6,154.5 L489.2,153.2 L489.9,151.8 L490.5,150.4 L491.1,149.0 L491.8,147.7 L492.4,146.3 L493.0,144.9 L493.6,143.5 L494.2,142.1 L494.8,140.8 L495.4,139.4 L496.0,138.0 L496.6,136.6 L497.2,135.2 L497.7,133.8 L498.3,132.4 L498.9,131.0 L499.5,129.6 L500.0,128.2 L500.6,126.8 L501.2,125.4 L501.7,124.0 L502.3,122.6 L502.8,121.2 L503.4,119.9 L504.0,118.5 L504.5,117.1 L505.1,115.7 L505.6,114.3 L506.2,112.9 L506.7,111.5 L507.3,110.1 L507.9,108.7 L508.4,107.3 L509.0,105.9 L509.5,104.5 L510.1,103.1 L510.6,101.7 L511.2,100.3 L511.8,99.0 L512.3,97.6 L512.9,96.2 L513.4,94.8 L514.0,93.4 L514.6,92.0 L515.1,90.6 L515.7,89.2 L516.3,87.8 L516.9,86.4 L517.4,85.0 L518.0,83.6 L518.6,82.2 L519.2,80.8 L519.8,79.4 L520.3,78.0 L520.9,76.6 L521.5,75.2 L522.1,73.8 L522.7,72.4 L523.3,71.0 L523.9,69.5 L524.5,68.1 L525.1,66.7 L525.8,65.3 L526.4,63.9 L527.0,62.5 L527.7,61.1 L528.4,59.8 L529.1,58.4 L529.8,57.1 L530.5,55.7 L531.3,54.4 L532.1,53.1 L532.9,51.9 L533.8,50.6 L534.7,49.4 L535.6,48.2 L536.6,47.1 L537.6,46.0 L538.6,44.9 L539.7,43.8 L540.9,42.8 L542.1,41.8 L543.3,40.9 L544.6,40.1 L545.9,39.3 L547.2,38.6 L548.6,38.0 L549.9,37.5 L551.3,37.2 L552.6,36.9 L553.9,36.9 L555.2,36.9 L556.5,37.1 L557.8,37.5 L559.0,38.1 L560.2,38.8 L561.4,39.7 L562.5,40.7 L563.6,41.8 L564.6,43.0 L565.6,44.2 L566.6,45.4 L567.5,46.7 L568.3,48.0 L569.2,49.4 L570.0,50.7 L570.7,52.1 L571.5,53.5 L572.2,54.8 L572.9,56.2 L573.6,57.6 L574.3,58.9 L575.0,60.3 L575.6,61.7 L576.2,63.1 L576.9,64.4 L577.5,65.8 L578.1,67.2 L578.7,68.6 L579.2,69.9 L579.8,71.3 L580.4,72.7 L580.9,74.1 L581.5,75.5 L582.0,76.8 L582.5,78.2 L583.1,79.6 L583.6,81.0 L584.1,82.4 L584.6,83.8 L585.1,85.2 L585.6,86.6 L586.1,88.0 L586.6,89.5 L587.1,90.9 L587.6,92.3 L588.1,93.7 L588.6,95.1 L589.1,96.5 L589.6,98.0 L590.0,99.4 L590.5,100.8 L591.0,102.3 L591.5,103.7 L591.9,105.1 L592.4,106.5 L592.9,108.0 L593.3,109.4 L593.8,110.9 L594.3,112.3 L594.7,113.7 L595.2,115.2 L595.7,116.6 L596.1,118.1 L596.6,119.5 L597.0,120.9 L597.5,122.4 L598.0,123.8 L598.4,125.3 L598.9,126.7 L599.4,128.2 L599.8,129.6 L600.3,131.0 L600.8,132.5 L601.3,133.9 L601.7,135.4 L602.2,136.8 L602.7,138.2 L603.2,139.7 L603.7,141.1 L604.2,142.6 L604.6,144.0 L605.1,145.4 L605.6,146.9 L606.2,148.3 L606.7,149.7 L607.2,151.2 L607.7,152.6 L608.3,154.0 L608.8,155.4 L609.4,156.8 L610.0,158.2 L610.5,159.6 L611.1,161.0 L611.8,162.3 L612.4,163.7 L613.0,165.1 L613.7,166.4 L614.3,167.8 L615.0,169.1 L615.7,170.4 L616.4,171.7 L617.2,173.0 L617.9,174.3 L618.7,175.6 L619.5,176.9 L620.3,178.1 L621.2,179.4 L622.0,180.6 L622.9,181.8 L623.8,183.0 L624.8,184.2 L625.7,185.3 L626.7,186.5 L627.7,187.6 L628.8,188.7 L629.8,189.8 L630.9,190.9 L632.0,192.0 L633.2,193.0 L634.4,194.0 L635.6,195.0 L636.8,195.9 L638.1,196.8 L639.4,197.6 L640.7,198.3 L642.0,199.0 L643.4,199.6 L644.7,200.1 L646.1,200.5 L647.5,200.8 L649.0,200.9 L650.4,201.0 L651.9,201.0 L653.4,200.8 L654.8,200.5 L656.3,200.0 L657.7,199.5 L659.0,198.8 L660.3,198.0 L661.5,197.0 L662.7,195.9 L663.7,194.7 L664.6,193.4 L665.4,191.9" fill="none" stroke="#0f760f" stroke-width="2.6" stroke-linecap="round" stroke-linejoin="round"/>
<path d="M408.0,217.6 L409.4,217.2 L410.8,216.8 L412.3,216.5 L413.7,216.1 L415.2,215.8 L416.6,215.4 L418.1,215.1 L419.6,214.7 L421.1,214.4 L422.6,214.0 L424.1,213.7 L425.5,213.3 L427.0,212.9 L428.5,212.4 L430.0,212.0 L431.4,211.5 L432.9,211.0 L434.3,210.5 L435.7,209.9 L437.1,209.3 L438.4,208.7 L439.8,208.0 L441.1,207.3 L442.4,206.6 L443.7,205.8 L444.9,205.0 L446.2,204.1 L447.4,203.3 L448.6,202.4 L449.7,201.5 L450.9,200.5 L452.0,199.5 L453.1,198.5 L454.2,197.5 L455.2,196.5 L456.3,195.4 L457.3,194.3 L458.3,193.2 L459.3,192.0 L460.2,190.9 L461.1,189.7 L462.0,188.5 L462.9,187.3 L463.8,186.1 L464.6,184.8 L465.5,183.6 L466.3,182.3 L467.1,181.0 L467.8,179.7 L468.6,178.4 L469.3,177.1 L470.1,175.8 L470.8,174.5 L471.5,173.1 L472.2,171.8 L472.9,170.4 L473.6,169.1 L474.3,167.7 L475.0,166.4 L475.6,165.0 L476.3,163.6 L477.0,162.3 L477.6,160.9 L478.3,159.5 L478.9,158.2 L479.6,156.8 L480.2,155.4 L480.9,154.1 L481.6,152.7 L482.2,151.4 L482.9,150.0 L483.5,148.7 L484.2,147.3 L484.9,146.0 L485.5,144.6 L486.2,143.3 L486.8,141.9 L487.5,140.6 L488.2,139.3 L488.8,137.9 L489.5,136.6 L490.1,135.2 L490.8,133.9 L491.4,132.5 L492.0,131.2 L492.7,129.8 L493.3,128.5 L493.9,127.1 L494.5,125.8 L495.2,124.4 L495.8,123.0 L496.4,121.6 L497.0,120.3 L497.5,118.9 L498.1,117.5 L498.7,116.1 L499.3,114.7 L499.9,113.3 L500.4,111.9 L501.0,110.5 L501.5,109.1 L502.1,107.7 L502.7,106.2 L503.2,104.8 L503.8,103.4 L504.3,102.0 L504.9,100.6 L505.4,99.2 L506.0,97.8 L506.5,96.3 L507.1,94.9 L507.6,93.5 L508.2,92.1 L508.7,90.7 L509.3,89.3 L509.8,87.9 L510.4,86.5 L510.9,85.1 L511.5,83.7 L512.0,82.3 L512.6,80.9 L513.2,79.5 L513.7,78.1 L514.3,76.7 L514.9,75.3 L515.5,73.9 L516.1,72.6 L516.7,71.2 L517.3,69.8 L517.9,68.5 L518.5,67.1 L519.1,65.8 L519.7,64.4 L520.4,63.1 L521.0,61.8 L521.7,60.4 L522.3,59.1 L523.0,57.8 L523.7,56.5 L524.4,55.2 L525.1,53.9 L525.9,52.6 L526.6,51.3 L527.4,50.1 L528.2,48.8 L529.1,47.5 L529.9,46.3 L530.8,45.0 L531.7,43.8 L532.6,42.5 L533.5,41.3 L534.5,40.0 L535.5,38.8 L536.6,37.6 L537.6,36.4 L538.7,35.2 L539.9,34.1 L541.0,33.0 L542.2,31.9 L543.4,31.0 L544.6,30.0 L545.8,29.2 L547.1,28.4 L548.4,27.7 L549.7,27.1 L551.0,26.6 L552.3,26.3 L553.7,26.0 L555.1,25.9 L556.4,25.8 L557.8,26.0 L559.2,26.2 L560.6,26.6 L562.0,27.1 L563.4,27.7 L564.7,28.4 L566.0,29.2 L567.2,30.1 L568.4,31.0 L569.6,32.0 L570.6,33.1 L571.6,34.3 L572.6,35.5 L573.5,36.7 L574.4,37.9 L575.2,39.2 L576.0,40.5 L576.8,41.9 L577.6,43.2 L578.3,44.5 L579.0,45.9 L579.7,47.2 L580.4,48.6 L581.0,50.0 L581.7,51.3 L582.3,52.7 L582.9,54.1 L583.5,55.5 L584.0,56.9 L584.6,58.3 L585.1,59.7 L585.7,61.1 L586.2,62.6 L586.7,64.0 L587.2,65.4 L587.7,66.8 L588.3,68.2 L588.8,69.7 L589.3,71.1 L589.8,72.5 L590.3,73.9 L590.8,75.3 L591.3,76.7 L591.8,78.2 L592.3,79.6 L592.8,81.0 L593.3,82.4 L593.8,83.8 L594.2,85.2 L594.7,86.6 L595.2,88.0 L595.7,89.4 L596.2,90.8 L596.7,92.3 L597.2,93.7 L597.7,95.1 L598.2,96.5 L598.7,97.9 L599.1,99.3 L599.6,100.7 L600.1,102.1 L600.6,103.6 L601.1,105.0 L601.5,106.4 L602.0,107.8 L602.5,109.2 L603.0,110.6 L603.4,112.1 L603.9,113.5 L604.4,114.9 L604.8,116.4 L605.3,117.8 L605.8,119.2 L606.2,120.7 L606.7,122.1 L607.1,123.5 L607.6,125.0 L608.0,126.4 L608.5,127.9 L608.9,129.3 L609.4,130.8 L609.8,132.3 L610.3,133.7 L610.7,135.2 L611.2,136.6 L611.6,138.1 L612.1,139.6 L612.5,141.0 L613.0,142.5 L613.5,144.0 L613.9,145.4 L614.4,146.9 L614.9,148.3 L615.4,149.8 L615.9,151.2 L616.4,152.6 L617.0,154.1 L617.5,155.5 L618.0,156.9 L618.6,158.3 L619.2,159.7 L619.8,161.1 L620.4,162.4 L621.0,163.8 L621.7,165.1 L622.4,166.5 L623.0,167.8 L623.8,169.1 L624.5,170.4 L625.2,171.7 L626.0,172.9 L626.8,174.2 L627.6,175.4 L628.5,176.6 L629.4,177.8 L630.3,179.0 L631.2,180.1 L632.2,181.2 L633.2,182.4 L634.2,183.4 L635.3,184.5 L636.4,185.6 L637.5,186.6 L638.6,187.6 L639.8,188.5 L641.1,189.4 L642.3,190.2 L643.6,190.9 L644.9,191.5 L646.2,192.0 L647.5,192.3 L648.9,192.5 L650.3,192.5 L651.7,192.3 L653.1,191.9 L654.5,191.4 L655.9,190.7 L657.3,189.8 L658.6,188.9 L659.9,187.8 L661.1,186.6 L662.2,185.4 L663.2,184.1 L664.0,182.8 L664.8,181.5 L665.3,180.1" fill="none" stroke="#08086e" stroke-width="2.6" stroke-linecap="round" stroke-linejoin="round"/>
<rect x="388.0" y="7.0" width="290.0" height="243.0" fill="none" stroke="#262626" stroke-width="1.3"/>
<text class="t" x="388.6" y="10.0" text-anchor="end">70</text>
<text class="t" x="388.6" y="40.4" text-anchor="end">60</text>
<text class="t" x="388.6" y="70.8" text-anchor="end">50</text>
<text class="t" x="388.6" y="101.1" text-anchor="end">40</text>
<text class="t" x="388.6" y="131.5" text-anchor="end">30</text>
<text class="t" x="388.6" y="161.9" text-anchor="end">20</text>
<text class="t" x="388.6" y="192.2" text-anchor="end">10</text>
<text class="t" x="388.6" y="222.6" text-anchor="end">0</text>
<text class="t" x="388.6" y="253.0" text-anchor="end">-10</text>
<text class="t" x="408.5" y="256.7" text-anchor="middle">-1</text>
<text class="t" x="451.2" y="256.7" text-anchor="middle">0</text>
<text class="t" x="494.0" y="256.7" text-anchor="middle">1</text>
<text class="t" x="536.8" y="256.7" text-anchor="middle">2</text>
<text class="t" x="579.5" y="256.7" text-anchor="middle">3</text>
<text class="t" x="622.2" y="256.7" text-anchor="middle">4</text>
<text class="t" x="665.0" y="256.7" text-anchor="middle">5</text>
<text class="ax" x="537.0" y="273.6" text-anchor="middle">log (Freq/Hz)</text>
<text class="ax" transform="translate(359.5,129.0) rotate(-90)" text-anchor="middle">Phase</text>
<text class="ab" x="396.0" y="29.0">(a)</text>
<rect x="601.0" y="10.5" width="73.5" height="76.5" fill="#fff" stroke="#8a8a8a" stroke-width="1"/>
<line x1="605.4" y1="16.7" x2="627.6" y2="16.7" stroke="#000000" stroke-width="2.9" stroke-linecap="round"/>
<text class="lg" style="font-size:10.4px" x="631.5" y="20.4">Blank</text>
<line x1="605.4" y1="29.7" x2="627.6" y2="29.7" stroke="#dd1818" stroke-width="2.9" stroke-linecap="round"/>
<text class="lg" style="font-size:10.4px" x="631.5" y="33.4">100 ppm</text>
<line x1="605.4" y1="42.7" x2="627.6" y2="42.7" stroke="#0c0cd8" stroke-width="2.9" stroke-linecap="round"/>
<text class="lg" style="font-size:10.4px" x="631.5" y="46.4">200 ppm</text>
<line x1="605.4" y1="55.5" x2="627.6" y2="55.5" stroke="#e412e8" stroke-width="2.9" stroke-linecap="round"/>
<text class="lg" style="font-size:10.4px" x="631.5" y="59.2">300 ppm</text>
<line x1="605.4" y1="68.0" x2="627.6" y2="68.0" stroke="#0f760f" stroke-width="2.9" stroke-linecap="round"/>
<text class="lg" style="font-size:10.4px" x="631.5" y="71.7">400 ppm</text>
<line x1="605.4" y1="80.5" x2="627.6" y2="80.5" stroke="#08086e" stroke-width="2.9" stroke-linecap="round"/>
<text class="lg" style="font-size:10.4px" x="631.5" y="84.2">500 ppm</text>
<path d="M60.3,478.8 L61.9,478.8 L63.4,478.9 L64.9,478.9 L66.4,478.9 L67.9,478.9 L69.4,478.9 L70.9,478.9 L72.4,478.9 L73.9,478.9 L75.4,478.9 L76.9,478.9 L78.4,478.9 L79.9,478.9 L81.4,478.9 L82.9,478.8 L84.4,478.8 L85.9,478.8 L87.4,478.7 L88.9,478.7 L90.4,478.7 L91.9,478.6 L93.4,478.6 L94.9,478.5 L96.4,478.5 L97.9,478.5 L99.4,478.4 L100.9,478.4 L102.4,478.4 L103.9,478.3 L105.4,478.3 L106.9,478.3 L108.4,478.2 L109.9,478.2 L111.4,478.2 L112.9,478.2 L114.4,478.2 L115.9,478.2 L117.4,478.2 L118.9,478.2 L120.5,478.2 L122.0,478.2 L123.5,478.2 L125.0,478.3 L126.6,478.3 L128.1,478.3 L129.6,478.4 L131.2,478.5 L132.7,478.5 L134.2,478.6 L135.8,478.7 L137.3,478.8 L138.9,478.9 L140.4,479.0 L141.9,479.2 L143.5,479.3 L145.0,479.5 L146.5,479.7 L148.0,479.9 L149.6,480.1 L151.1,480.4 L152.6,480.7 L154.0,481.0 L155.5,481.3 L157.0,481.7 L158.4,482.1 L159.8,482.5 L161.3,482.9 L162.7,483.4 L164.0,483.9 L165.4,484.5 L166.8,485.1 L168.1,485.7 L169.4,486.3 L170.7,487.0 L172.0,487.7 L173.2,488.5 L174.5,489.3 L175.7,490.1 L176.9,490.9 L178.1,491.7 L179.3,492.6 L180.5,493.5 L181.6,494.4 L182.8,495.4 L183.9,496.4 L185.0,497.3 L186.2,498.3 L187.3,499.4 L188.4,500.4 L189.5,501.4 L190.5,502.5 L191.6,503.6 L192.7,504.7 L193.7,505.8 L194.8,506.9 L195.9,508.0 L196.9,509.1 L197.9,510.2 L199.0,511.3 L200.0,512.5 L201.1,513.6 L202.1,514.7 L203.1,515.9 L204.2,517.0 L205.2,518.1 L206.2,519.3 L207.3,520.4 L208.3,521.5 L209.3,522.6 L210.4,523.7 L211.4,524.8 L212.5,525.9 L213.5,527.0 L214.6,528.0 L215.7,529.1 L216.7,530.1 L217.8,531.1 L218.9,532.1 L220.0,533.1 L221.2,534.1 L222.3,535.0 L223.4,536.0 L224.6,536.9 L225.7,537.8 L226.9,538.6 L228.1,539.5 L229.3,540.3 L230.6,541.1 L231.8,541.8 L233.1,542.6 L234.4,543.3 L235.7,544.0 L237.0,544.6 L238.3,545.3 L239.7,545.9 L241.1,546.4 L242.5,547.0 L243.9,547.5 L245.3,548.0 L246.7,548.5 L248.2,549.0 L249.6,549.4 L251.1,549.8 L252.5,550.2 L254.0,550.6 L255.5,551.0 L257.0,551.3 L258.5,551.7 L260.0,552.0 L261.5,552.3 L263.0,552.6 L264.5,552.9 L266.0,553.2 L267.5,553.4 L269.0,553.7 L270.5,553.9 L272.0,554.1 L273.6,554.4 L275.1,554.6 L276.6,554.8 L278.1,555.0 L279.6,555.1 L281.1,555.3 L282.6,555.5 L284.1,555.6 L285.6,555.7 L287.1,555.9 L288.6,556.0 L290.2,556.1 L291.7,556.2 L293.2,556.2 L294.7,556.3 L296.2,556.3 L297.7,556.4 L299.2,556.4 L300.7,556.4 L302.2,556.4 L303.7,556.4 L305.2,556.4 L306.7,556.3 L308.2,556.3 L309.7,556.2 L311.2,556.2 L312.7,556.1 L314.2,556.0 L315.7,555.9 L317.2,555.7 L318.6,555.6 L320.1,555.5 L321.6,555.3 L323.1,555.1 L324.6,554.9 L326.1,554.7 L327.5,554.5" fill="none" stroke="#000000" stroke-width="2.6" stroke-linecap="round" stroke-linejoin="round"/>
<path d="M60.4,427.3 L61.8,427.4 L63.3,427.6 L64.7,427.7 L66.2,427.8 L67.7,427.9 L69.2,428.1 L70.6,428.2 L72.1,428.3 L73.6,428.4 L75.1,428.5 L76.6,428.7 L78.1,428.8 L79.7,428.9 L81.2,429.1 L82.7,429.2 L84.2,429.4 L85.7,429.5 L87.2,429.7 L88.8,429.9 L90.3,430.0 L91.8,430.2 L93.3,430.4 L94.8,430.6 L96.4,430.8 L97.9,431.0 L99.4,431.2 L100.9,431.4 L102.4,431.7 L103.9,431.9 L105.4,432.2 L106.9,432.5 L108.4,432.7 L109.9,433.0 L111.4,433.4 L112.9,433.7 L114.4,434.0 L115.9,434.4 L117.4,434.7 L118.8,435.1 L120.3,435.5 L121.7,435.9 L123.2,436.3 L124.6,436.8 L126.0,437.3 L127.5,437.7 L128.9,438.2 L130.3,438.7 L131.7,439.3 L133.1,439.8 L134.4,440.4 L135.8,441.0 L137.2,441.6 L138.5,442.3 L139.8,442.9 L141.2,443.6 L142.5,444.3 L143.8,445.1 L145.1,445.8 L146.3,446.6 L147.6,447.4 L148.8,448.2 L150.1,449.1 L151.3,449.9 L152.5,450.8 L153.7,451.7 L154.9,452.6 L156.1,453.6 L157.2,454.5 L158.4,455.5 L159.5,456.5 L160.7,457.5 L161.8,458.5 L162.9,459.5 L164.0,460.6 L165.1,461.6 L166.2,462.7 L167.3,463.8 L168.4,464.8 L169.4,465.9 L170.5,467.0 L171.5,468.1 L172.6,469.2 L173.6,470.3 L174.6,471.4 L175.7,472.6 L176.7,473.7 L177.7,474.8 L178.7,475.9 L179.7,477.1 L180.7,478.2 L181.6,479.4 L182.6,480.5 L183.6,481.6 L184.6,482.8 L185.5,484.0 L186.5,485.1 L187.4,486.3 L188.4,487.4 L189.3,488.6 L190.2,489.8 L191.2,491.0 L192.1,492.1 L193.0,493.3 L193.9,494.5 L194.9,495.7 L195.8,496.9 L196.7,498.1 L197.6,499.3 L198.5,500.5 L199.4,501.7 L200.2,502.9 L201.1,504.1 L202.0,505.4 L202.9,506.6 L203.8,507.8 L204.7,509.0 L205.5,510.3 L206.4,511.5 L207.3,512.7 L208.1,514.0 L209.0,515.2 L209.9,516.5 L210.7,517.7 L211.6,519.0 L212.4,520.2 L213.3,521.5 L214.1,522.7 L215.0,524.0 L215.9,525.2 L216.7,526.5 L217.6,527.7 L218.5,529.0 L219.3,530.2 L220.2,531.5 L221.1,532.7 L222.0,534.0 L222.8,535.2 L223.7,536.4 L224.6,537.7 L225.5,538.9 L226.4,540.1 L227.3,541.3 L228.3,542.5 L229.2,543.7 L230.1,544.9 L231.1,546.1 L232.0,547.3 L233.0,548.4 L233.9,549.6 L234.9,550.7 L235.9,551.9 L236.9,553.0 L237.9,554.1 L238.9,555.2 L240.0,556.3 L241.0,557.4 L242.1,558.4 L243.1,559.5 L244.2,560.5 L245.3,561.5 L246.4,562.5 L247.5,563.5 L248.7,564.5 L249.8,565.4 L251.0,566.3 L252.2,567.2 L253.4,568.1 L254.6,569.0 L255.8,569.8 L257.1,570.5 L258.3,571.3 L259.6,572.0 L260.9,572.7 L262.3,573.4 L263.6,574.0 L264.9,574.5 L266.3,575.1 L267.7,575.6 L269.1,576.1 L270.5,576.5 L272.0,576.9 L273.4,577.3 L274.9,577.6 L276.3,577.9 L277.8,578.2 L279.3,578.4 L280.8,578.7 L282.3,578.8 L283.8,579.0 L285.4,579.1 L286.9,579.2 L288.4,579.3 L290.0,579.3 L291.5,579.3 L293.0,579.3 L294.6,579.3 L296.1,579.2 L297.7,579.1 L299.2,579.0 L300.8,578.9 L302.3,578.8 L303.9,578.6 L305.4,578.5 L307.0,578.3 L308.5,578.1 L310.0,577.9 L311.5,577.7 L313.0,577.4 L314.5,577.2 L316.0,577.0 L317.5,576.7 L319.0,576.4 L320.4,576.2 L321.9,575.9 L323.3,575.6 L324.7,575.3 L326.1,575.0 L327.5,574.8" fill="none" stroke="#dd1818" stroke-width="2.6" stroke-linecap="round" stroke-linejoin="round"/>
<path d="M60.4,405.2 L61.8,405.5 L63.3,405.8 L64.8,406.1 L66.3,406.4 L67.7,406.7 L69.2,407.0 L70.7,407.4 L72.1,407.7 L73.6,408.1 L75.0,408.5 L76.5,408.8 L77.9,409.2 L79.4,409.7 L80.8,410.1 L82.3,410.5 L83.7,410.9 L85.2,411.4 L86.6,411.9 L88.0,412.3 L89.5,412.8 L90.9,413.3 L92.3,413.8 L93.7,414.3 L95.2,414.9 L96.6,415.4 L98.0,415.9 L99.4,416.5 L100.8,417.1 L102.2,417.6 L103.6,418.2 L105.0,418.8 L106.3,419.4 L107.7,420.0 L109.1,420.7 L110.5,421.3 L111.8,422.0 L113.2,422.6 L114.6,423.3 L115.9,424.0 L117.3,424.6 L118.6,425.3 L120.0,426.0 L121.3,426.7 L122.6,427.5 L123.9,428.2 L125.3,428.9 L126.6,429.7 L127.9,430.5 L129.2,431.2 L130.5,432.0 L131.8,432.8 L133.1,433.6 L134.4,434.4 L135.6,435.2 L136.9,436.0 L138.2,436.9 L139.4,437.7 L140.7,438.6 L141.9,439.4 L143.2,440.3 L144.4,441.2 L145.6,442.0 L146.8,442.9 L148.0,443.8 L149.3,444.8 L150.5,445.7 L151.6,446.6 L152.8,447.5 L154.0,448.5 L155.2,449.4 L156.3,450.4 L157.5,451.4 L158.7,452.3 L159.8,453.3 L160.9,454.3 L162.1,455.3 L163.2,456.3 L164.3,457.3 L165.4,458.4 L166.5,459.4 L167.6,460.4 L168.7,461.5 L169.8,462.5 L170.8,463.6 L171.9,464.7 L173.0,465.7 L174.0,466.8 L175.0,467.9 L176.1,469.0 L177.1,470.1 L178.1,471.2 L179.2,472.3 L180.2,473.5 L181.2,474.6 L182.2,475.7 L183.2,476.8 L184.2,478.0 L185.2,479.1 L186.1,480.3 L187.1,481.4 L188.1,482.6 L189.0,483.8 L190.0,484.9 L190.9,486.1 L191.9,487.3 L192.8,488.5 L193.8,489.7 L194.7,490.9 L195.6,492.1 L196.5,493.3 L197.5,494.5 L198.4,495.7 L199.3,496.9 L200.2,498.1 L201.1,499.3 L202.0,500.5 L202.9,501.8 L203.8,503.0 L204.7,504.2 L205.5,505.4 L206.4,506.7 L207.3,507.9 L208.2,509.2 L209.0,510.4 L209.9,511.6 L210.8,512.9 L211.6,514.1 L212.5,515.4 L213.3,516.6 L214.2,517.9 L215.1,519.1 L215.9,520.4 L216.8,521.6 L217.6,522.8 L218.5,524.1 L219.3,525.3 L220.2,526.6 L221.1,527.8 L221.9,529.1 L222.8,530.3 L223.7,531.5 L224.5,532.8 L225.4,534.0 L226.3,535.2 L227.2,536.5 L228.1,537.7 L228.9,538.9 L229.8,540.1 L230.7,541.4 L231.6,542.6 L232.6,543.8 L233.5,545.0 L234.4,546.2 L235.3,547.4 L236.3,548.6 L237.2,549.8 L238.1,551.0 L239.1,552.1 L240.1,553.3 L241.0,554.5 L242.0,555.6 L243.0,556.8 L244.0,557.9 L245.0,559.1 L246.0,560.2 L247.1,561.3 L248.1,562.4 L249.2,563.4 L250.2,564.5 L251.3,565.5 L252.4,566.6 L253.5,567.6 L254.7,568.5 L255.8,569.5 L257.0,570.4 L258.1,571.3 L259.3,572.2 L260.5,573.0 L261.8,573.8 L263.0,574.6 L264.3,575.3 L265.6,576.0 L266.9,576.7 L268.2,577.3 L269.5,577.9 L270.9,578.5 L272.3,579.0 L273.7,579.5 L275.1,579.9 L276.6,580.3 L278.0,580.7 L279.5,581.0 L281.0,581.3 L282.5,581.5 L284.1,581.7 L285.6,581.9 L287.1,582.1 L288.7,582.2 L290.2,582.3 L291.8,582.3 L293.4,582.3 L294.9,582.3 L296.5,582.3 L298.1,582.2 L299.6,582.1 L301.2,582.0 L302.7,581.9 L304.3,581.7 L305.8,581.5 L307.4,581.3 L308.9,581.1 L310.4,580.8 L311.9,580.6 L313.4,580.3 L314.9,580.0 L316.4,579.6 L317.8,579.3 L319.3,578.9 L320.7,578.5 L322.1,578.1 L323.5,577.7 L324.8,577.2 L326.2,576.8 L327.5,576.3" fill="none" stroke="#0c0cd8" stroke-width="2.6" stroke-linecap="round" stroke-linejoin="round"/>
<path d="M60.4,420.6 L61.8,420.7 L63.3,420.8 L64.7,420.9 L66.2,420.9 L67.7,421.0 L69.1,421.1 L70.6,421.2 L72.1,421.2 L73.6,421.3 L75.1,421.4 L76.6,421.4 L78.1,421.5 L79.6,421.6 L81.2,421.6 L82.7,421.7 L84.2,421.8 L85.7,421.9 L87.3,421.9 L88.8,422.0 L90.3,422.1 L91.9,422.2 L93.4,422.3 L94.9,422.4 L96.5,422.5 L98.0,422.6 L99.6,422.8 L101.1,422.9 L102.6,423.1 L104.2,423.2 L105.7,423.4 L107.2,423.5 L108.7,423.7 L110.3,423.9 L111.8,424.1 L113.3,424.4 L114.8,424.6 L116.3,424.8 L117.8,425.1 L119.3,425.4 L120.8,425.7 L122.3,426.0 L123.8,426.3 L125.3,426.6 L126.7,427.0 L128.2,427.4 L129.6,427.8 L131.1,428.2 L132.5,428.6 L133.9,429.1 L135.4,429.5 L136.8,430.0 L138.2,430.5 L139.5,431.1 L140.9,431.6 L142.3,432.2 L143.6,432.8 L145.0,433.5 L146.3,434.1 L147.6,434.8 L148.9,435.5 L150.2,436.2 L151.5,437.0 L152.8,437.8 L154.0,438.6 L155.2,439.4 L156.5,440.3 L157.7,441.1 L158.9,442.0 L160.0,443.0 L161.2,443.9 L162.4,444.9 L163.5,445.9 L164.6,446.9 L165.8,447.9 L166.9,448.9 L168.0,450.0 L169.1,451.0 L170.1,452.1 L171.2,453.2 L172.3,454.3 L173.3,455.4 L174.3,456.5 L175.4,457.6 L176.4,458.8 L177.4,459.9 L178.4,461.0 L179.4,462.2 L180.4,463.4 L181.3,464.5 L182.3,465.7 L183.2,466.9 L184.2,468.1 L185.1,469.2 L186.1,470.4 L187.0,471.6 L187.9,472.8 L188.8,474.0 L189.7,475.2 L190.6,476.5 L191.5,477.7 L192.4,478.9 L193.2,480.1 L194.1,481.4 L195.0,482.6 L195.8,483.8 L196.7,485.1 L197.5,486.3 L198.4,487.6 L199.2,488.8 L200.0,490.1 L200.9,491.3 L201.7,492.6 L202.5,493.9 L203.3,495.1 L204.1,496.4 L204.9,497.7 L205.7,499.0 L206.5,500.2 L207.3,501.5 L208.1,502.8 L208.9,504.1 L209.7,505.4 L210.5,506.7 L211.3,507.9 L212.1,509.2 L212.9,510.5 L213.6,511.8 L214.4,513.1 L215.2,514.4 L216.0,515.7 L216.7,517.0 L217.5,518.3 L218.3,519.6 L219.1,520.9 L219.8,522.2 L220.6,523.5 L221.4,524.8 L222.2,526.1 L223.0,527.4 L223.8,528.7 L224.5,530.0 L225.3,531.3 L226.1,532.6 L226.9,533.8 L227.7,535.1 L228.5,536.4 L229.3,537.7 L230.1,539.0 L230.9,540.2 L231.8,541.5 L232.6,542.8 L233.4,544.1 L234.2,545.3 L235.1,546.6 L235.9,547.8 L236.8,549.1 L237.6,550.3 L238.5,551.6 L239.3,552.8 L240.2,554.0 L241.1,555.3 L242.0,556.5 L242.9,557.7 L243.8,558.9 L244.7,560.1 L245.6,561.3 L246.6,562.5 L247.5,563.7 L248.5,564.9 L249.4,566.0 L250.4,567.2 L251.4,568.4 L252.4,569.5 L253.4,570.6 L254.4,571.7 L255.4,572.8 L256.5,573.9 L257.5,575.0 L258.6,576.0 L259.7,577.0 L260.9,578.0 L262.0,579.0 L263.2,579.9 L264.3,580.8 L265.5,581.7 L266.8,582.5 L268.0,583.3 L269.3,584.1 L270.6,584.8 L271.9,585.6 L273.2,586.2 L274.5,586.9 L275.9,587.5 L277.3,588.0 L278.7,588.5 L280.1,589.0 L281.5,589.5 L283.0,589.9 L284.4,590.3 L285.9,590.6 L287.4,590.9 L288.9,591.2 L290.4,591.4 L291.9,591.6 L293.5,591.7 L295.0,591.8 L296.5,591.9 L298.1,592.0 L299.6,592.0 L301.1,591.9 L302.7,591.9 L304.2,591.8 L305.7,591.6 L307.3,591.4 L308.8,591.2 L310.3,591.0 L311.8,590.7 L313.3,590.4 L314.8,590.1 L316.3,589.7 L317.8,589.3 L319.2,588.9 L320.6,588.4 L322.1,587.9 L323.5,587.4 L324.8,586.8 L326.2,586.2 L327.5,585.6" fill="none" stroke="#e412e8" stroke-width="2.6" stroke-linecap="round" stroke-linejoin="round"/>
<path d="M60.3,410.6 L61.8,410.8 L63.3,411.0 L64.7,411.1 L66.2,411.3 L67.7,411.5 L69.2,411.6 L70.7,411.7 L72.2,411.9 L73.7,412.0 L75.2,412.2 L76.7,412.3 L78.2,412.4 L79.7,412.6 L81.2,412.7 L82.7,412.8 L84.2,412.9 L85.7,413.1 L87.3,413.2 L88.8,413.3 L90.3,413.5 L91.8,413.6 L93.3,413.8 L94.9,413.9 L96.4,414.1 L97.9,414.2 L99.4,414.4 L100.9,414.6 L102.4,414.7 L103.9,414.9 L105.5,415.1 L107.0,415.3 L108.5,415.6 L110.0,415.8 L111.5,416.0 L112.9,416.3 L114.4,416.6 L115.9,416.8 L117.4,417.1 L118.9,417.4 L120.3,417.8 L121.8,418.1 L123.2,418.4 L124.7,418.8 L126.1,419.2 L127.5,419.6 L129.0,420.0 L130.4,420.5 L131.8,420.9 L133.2,421.4 L134.6,421.9 L136.0,422.5 L137.3,423.0 L138.7,423.6 L140.0,424.2 L141.4,424.8 L142.7,425.4 L144.0,426.1 L145.3,426.8 L146.6,427.5 L147.9,428.3 L149.2,429.0 L150.5,429.8 L151.7,430.7 L152.9,431.5 L154.2,432.4 L155.4,433.3 L156.6,434.2 L157.8,435.1 L159.0,436.0 L160.2,437.0 L161.3,437.9 L162.5,438.9 L163.6,439.8 L164.8,440.8 L165.9,441.8 L167.0,442.8 L168.0,443.8 L169.1,444.9 L170.2,445.9 L171.2,447.0 L172.2,448.1 L173.2,449.2 L174.2,450.3 L175.2,451.4 L176.2,452.5 L177.2,453.7 L178.2,454.8 L179.1,455.9 L180.1,457.1 L181.0,458.3 L182.0,459.4 L182.9,460.6 L183.8,461.8 L184.7,463.0 L185.6,464.2 L186.5,465.4 L187.4,466.6 L188.3,467.8 L189.2,469.0 L190.1,470.2 L190.9,471.4 L191.8,472.7 L192.6,473.9 L193.5,475.2 L194.3,476.4 L195.2,477.6 L196.0,478.9 L196.8,480.2 L197.7,481.4 L198.5,482.7 L199.3,484.0 L200.1,485.2 L200.9,486.5 L201.7,487.8 L202.5,489.1 L203.3,490.4 L204.1,491.6 L204.9,492.9 L205.7,494.2 L206.5,495.5 L207.2,496.8 L208.0,498.1 L208.8,499.4 L209.6,500.7 L210.4,502.0 L211.1,503.3 L211.9,504.6 L212.7,505.9 L213.5,507.2 L214.2,508.5 L215.0,509.8 L215.8,511.1 L216.5,512.4 L217.3,513.7 L218.1,515.0 L218.9,516.3 L219.7,517.6 L220.4,518.9 L221.2,520.2 L222.0,521.4 L222.8,522.7 L223.6,524.0 L224.4,525.3 L225.2,526.6 L226.0,527.8 L226.8,529.1 L227.6,530.4 L228.5,531.6 L229.3,532.9 L230.1,534.1 L231.0,535.4 L231.8,536.6 L232.7,537.8 L233.5,539.1 L234.4,540.3 L235.3,541.5 L236.2,542.7 L237.1,543.9 L238.0,545.1 L238.9,546.3 L239.9,547.5 L240.8,548.6 L241.8,549.8 L242.7,550.9 L243.7,552.1 L244.7,553.2 L245.7,554.4 L246.7,555.5 L247.7,556.6 L248.8,557.7 L249.8,558.8 L250.9,559.9 L252.0,560.9 L253.1,561.9 L254.2,563.0 L255.3,563.9 L256.5,564.9 L257.7,565.8 L258.9,566.7 L260.1,567.6 L261.4,568.4 L262.6,569.1 L263.9,569.8 L265.3,570.5 L266.6,571.1 L268.0,571.6 L269.4,572.1 L270.9,572.6 L272.3,573.0 L273.8,573.4 L275.3,573.7 L276.7,574.0 L278.3,574.3 L279.8,574.5 L281.3,574.7 L282.8,574.9 L284.3,575.1 L285.8,575.3 L287.4,575.4 L288.9,575.6 L290.4,575.7 L291.9,575.8 L293.4,575.9 L294.9,575.9 L296.4,576.0 L297.9,576.0 L299.4,576.0 L301.0,576.0 L302.5,576.0 L304.0,575.9 L305.5,575.8 L306.9,575.7 L308.4,575.6 L309.9,575.5 L311.4,575.3 L312.9,575.1 L314.4,574.9 L315.9,574.6 L317.4,574.4 L318.8,574.1 L320.3,573.8 L321.8,573.4 L323.2,573.1 L324.7,572.7 L326.2,572.3 L327.6,571.8" fill="none" stroke="#0f760f" stroke-width="2.6" stroke-linecap="round" stroke-linejoin="round"/>
<path d="M60.4,395.9 L61.9,396.0 L63.3,396.1 L64.7,396.3 L66.2,396.4 L67.6,396.6 L69.1,396.7 L70.5,396.9 L72.0,397.0 L73.5,397.2 L74.9,397.3 L76.4,397.5 L77.9,397.7 L79.4,397.8 L80.9,398.0 L82.4,398.2 L83.9,398.4 L85.4,398.6 L86.9,398.8 L88.4,399.0 L90.0,399.2 L91.5,399.4 L93.0,399.6 L94.5,399.9 L96.0,400.1 L97.5,400.4 L99.0,400.6 L100.6,400.9 L102.1,401.2 L103.6,401.5 L105.1,401.8 L106.6,402.1 L108.1,402.4 L109.6,402.7 L111.1,403.1 L112.6,403.5 L114.1,403.8 L115.5,404.2 L117.0,404.6 L118.5,405.0 L119.9,405.5 L121.4,405.9 L122.9,406.4 L124.3,406.8 L125.7,407.3 L127.2,407.8 L128.6,408.4 L130.0,408.9 L131.4,409.5 L132.8,410.0 L134.1,410.6 L135.5,411.2 L136.9,411.9 L138.2,412.5 L139.5,413.2 L140.8,413.9 L142.2,414.6 L143.4,415.3 L144.7,416.1 L146.0,416.8 L147.2,417.6 L148.5,418.4 L149.7,419.3 L150.9,420.1 L152.1,421.0 L153.3,421.9 L154.4,422.8 L155.6,423.8 L156.7,424.8 L157.8,425.7 L158.9,426.7 L160.0,427.8 L161.1,428.8 L162.2,429.9 L163.2,430.9 L164.2,432.0 L165.3,433.1 L166.3,434.2 L167.3,435.3 L168.3,436.5 L169.3,437.6 L170.3,438.8 L171.2,439.9 L172.2,441.1 L173.2,442.3 L174.1,443.4 L175.0,444.6 L176.0,445.8 L176.9,447.0 L177.8,448.2 L178.7,449.4 L179.7,450.6 L180.6,451.8 L181.5,453.0 L182.3,454.2 L183.2,455.5 L184.1,456.7 L185.0,457.9 L185.9,459.1 L186.7,460.4 L187.6,461.6 L188.4,462.9 L189.3,464.1 L190.1,465.3 L191.0,466.6 L191.8,467.8 L192.6,469.1 L193.5,470.3 L194.3,471.6 L195.1,472.9 L195.9,474.1 L196.8,475.4 L197.6,476.7 L198.4,477.9 L199.2,479.2 L200.0,480.5 L200.8,481.7 L201.6,483.0 L202.4,484.3 L203.2,485.6 L204.0,486.9 L204.8,488.1 L205.5,489.4 L206.3,490.7 L207.1,492.0 L207.9,493.3 L208.7,494.6 L209.4,495.9 L210.2,497.2 L211.0,498.5 L211.8,499.7 L212.5,501.0 L213.3,502.3 L214.1,503.6 L214.9,504.9 L215.6,506.2 L216.4,507.5 L217.2,508.8 L217.9,510.1 L218.7,511.4 L219.5,512.7 L220.2,514.0 L221.0,515.3 L221.8,516.6 L222.6,517.9 L223.3,519.2 L224.1,520.4 L224.9,521.7 L225.7,523.0 L226.5,524.3 L227.2,525.6 L228.0,526.9 L228.8,528.2 L229.6,529.5 L230.4,530.8 L231.2,532.0 L232.0,533.3 L232.8,534.6 L233.6,535.9 L234.4,537.2 L235.2,538.4 L236.0,539.7 L236.9,541.0 L237.7,542.2 L238.5,543.5 L239.3,544.8 L240.2,546.0 L241.0,547.3 L241.9,548.6 L242.7,549.8 L243.6,551.1 L244.4,552.3 L245.3,553.6 L246.2,554.8 L247.0,556.1 L247.9,557.3 L248.8,558.5 L249.7,559.7 L250.6,560.9 L251.5,562.1 L252.5,563.3 L253.4,564.5 L254.4,565.6 L255.4,566.7 L256.4,567.8 L257.4,568.9 L258.5,569.9 L259.5,570.9 L260.6,571.9 L261.7,572.9 L262.9,573.8 L264.0,574.7 L265.2,575.5 L266.4,576.4 L267.6,577.1 L268.9,577.9 L270.1,578.6 L271.4,579.3 L272.7,579.9 L274.1,580.5 L275.4,581.1 L276.8,581.6 L278.2,582.1 L279.6,582.6 L281.0,583.0 L282.4,583.4 L283.9,583.7 L285.3,584.0 L286.8,584.3 L288.3,584.5 L289.8,584.7 L291.3,584.9 L292.9,585.0 L294.4,585.1 L295.9,585.1 L297.5,585.1 L299.0,585.1 L300.6,585.1 L302.1,585.0 L303.7,584.9 L305.3,584.8 L306.8,584.7 L308.4,584.5 L309.9,584.3 L311.4,584.1 L313.0,583.8 L314.5,583.6 L316.0,583.3 L317.5,583.0 L319.0,582.7 L320.5,582.3 L321.9,582.0 L323.4,581.6 L324.8,581.2 L326.2,580.8 L327.6,580.4" fill="none" stroke="#08086e" stroke-width="2.6" stroke-linecap="round" stroke-linejoin="round"/>
<rect x="39.0" y="360.0" width="308.0" height="259.0" fill="none" stroke="#262626" stroke-width="1.3"/>
<text class="t" x="39.6" y="363.0" text-anchor="end">3.0</text>
<text class="t" x="39.6" y="409.9" text-anchor="end">2.5</text>
<text class="t" x="39.6" y="456.8" text-anchor="end">2.0</text>
<text class="t" x="39.6" y="503.8" text-anchor="end">1.5</text>
<text class="t" x="39.6" y="550.7" text-anchor="end">1.0</text>
<text class="t" x="39.6" y="597.6" text-anchor="end">0.5</text>
<text class="t" x="61.5" y="625.7" text-anchor="middle">-1</text>
<text class="t" x="105.7" y="625.7" text-anchor="middle">0</text>
<text class="t" x="149.8" y="625.7" text-anchor="middle">1</text>
<text class="t" x="193.9" y="625.7" text-anchor="middle">2</text>
<text class="t" x="238.1" y="625.7" text-anchor="middle">3</text>
<text class="t" x="282.2" y="625.7" text-anchor="middle">4</text>
<text class="t" x="326.4" y="625.7" text-anchor="middle">5</text>
<text class="ax" x="194.0" y="644.0" text-anchor="middle">log (Freq/Hz)</text>
<text class="ax" transform="translate(10.3,491.7) rotate(-90)" text-anchor="middle">log (Z/ohm)</text>
<text class="ab" x="45.0" y="379.2">(b)</text>
<rect x="261.5" y="363.0" width="82.0" height="88.5" fill="#fff" stroke="#8a8a8a" stroke-width="1"/>
<line x1="266.4" y1="371.0" x2="292.1" y2="371.0" stroke="#000000" stroke-width="2.9" stroke-linecap="round"/>
<text class="lg" style="font-size:11.4px" x="295.6" y="375.1">Blank</text>
<line x1="266.4" y1="385.6" x2="292.1" y2="385.6" stroke="#dd1818" stroke-width="2.9" stroke-linecap="round"/>
<text class="lg" style="font-size:11.4px" x="295.6" y="389.7">100 ppm</text>
<line x1="266.4" y1="400.3" x2="292.1" y2="400.3" stroke="#0c0cd8" stroke-width="2.9" stroke-linecap="round"/>
<text class="lg" style="font-size:11.4px" x="295.6" y="404.4">200 ppm</text>
<line x1="266.4" y1="415.0" x2="292.1" y2="415.0" stroke="#e412e8" stroke-width="2.9" stroke-linecap="round"/>
<text class="lg" style="font-size:11.4px" x="295.6" y="419.1">300 ppm</text>
<line x1="266.4" y1="429.6" x2="292.1" y2="429.6" stroke="#0f760f" stroke-width="2.9" stroke-linecap="round"/>
<text class="lg" style="font-size:11.4px" x="295.6" y="433.7">400 ppm</text>
<line x1="266.4" y1="444.2" x2="292.1" y2="444.2" stroke="#08086e" stroke-width="2.9" stroke-linecap="round"/>
<text class="lg" style="font-size:11.4px" x="295.6" y="448.3">500 ppm</text>
<path d="M409.5,584.4 L410.9,584.4 L412.4,584.5 L413.9,584.6 L415.4,584.7 L416.8,584.7 L418.3,584.8 L419.8,584.8 L421.3,584.8 L422.9,584.8 L424.4,584.8 L425.9,584.8 L427.4,584.8 L428.9,584.7 L430.5,584.7 L432.0,584.6 L433.5,584.5 L435.0,584.4 L436.6,584.3 L438.1,584.1 L439.6,584.0 L441.1,583.8 L442.7,583.6 L444.2,583.4 L445.7,583.1 L447.2,582.9 L448.7,582.6 L450.1,582.3 L451.6,581.9 L453.1,581.6 L454.6,581.2 L456.0,580.8 L457.4,580.3 L458.9,579.9 L460.3,579.4 L461.7,578.9 L463.1,578.3 L464.5,577.7 L465.8,577.1 L467.2,576.5 L468.5,575.8 L469.8,575.1 L471.2,574.4 L472.4,573.6 L473.7,572.9 L475.0,572.1 L476.2,571.2 L477.5,570.4 L478.7,569.5 L479.9,568.6 L481.1,567.7 L482.2,566.7 L483.4,565.8 L484.5,564.8 L485.7,563.8 L486.8,562.7 L487.9,561.7 L488.9,560.6 L490.0,559.5 L491.0,558.4 L492.1,557.3 L493.1,556.2 L494.1,555.0 L495.1,553.9 L496.0,552.7 L497.0,551.5 L497.9,550.3 L498.8,549.1 L499.7,547.9 L500.6,546.6 L501.5,545.4 L502.4,544.1 L503.2,542.9 L504.0,541.6 L504.8,540.3 L505.6,539.0 L506.4,537.7 L507.2,536.4 L507.9,535.1 L508.6,533.8 L509.4,532.5 L510.1,531.2 L510.8,529.8 L511.5,528.5 L512.1,527.1 L512.8,525.8 L513.5,524.4 L514.1,523.1 L514.7,521.7 L515.4,520.4 L516.0,519.0 L516.6,517.6 L517.2,516.2 L517.8,514.8 L518.4,513.5 L519.0,512.1 L519.6,510.7 L520.1,509.3 L520.7,507.9 L521.3,506.5 L521.9,505.1 L522.4,503.7 L523.0,502.3 L523.5,500.9 L524.1,499.5 L524.7,498.1 L525.2,496.7 L525.8,495.3 L526.4,493.9 L527.0,492.5 L527.6,491.2 L528.3,489.8 L528.9,488.4 L529.6,487.0 L530.3,485.6 L531.0,484.3 L531.8,482.9 L532.5,481.6 L533.4,480.2 L534.2,478.9 L535.1,477.6 L536.0,476.3 L537.0,475.1 L538.1,474.0 L539.1,472.9 L540.3,472.0 L541.5,471.2 L542.8,470.6 L544.1,470.1 L545.4,469.7 L546.7,469.5 L548.1,469.5 L549.4,469.6 L550.7,469.8 L551.9,470.2 L553.1,470.8 L554.3,471.5 L555.3,472.4 L556.4,473.4 L557.4,474.4 L558.4,475.6 L559.3,476.8 L560.2,478.1 L561.1,479.5 L562.0,480.9 L562.8,482.3 L563.6,483.7 L564.5,485.1 L565.3,486.5 L566.1,487.8 L566.8,489.2 L567.6,490.6 L568.4,492.0 L569.1,493.4 L569.9,494.7 L570.6,496.1 L571.4,497.4 L572.1,498.8 L572.8,500.1 L573.6,501.5 L574.3,502.8 L575.0,504.1 L575.7,505.5 L576.5,506.8 L577.2,508.1 L577.9,509.4 L578.6,510.7 L579.4,512.0 L580.1,513.3 L580.8,514.6 L581.6,515.9 L582.3,517.2 L583.1,518.4 L583.8,519.7 L584.6,520.9 L585.4,522.2 L586.2,523.4 L587.0,524.7 L587.8,525.9 L588.6,527.2 L589.4,528.4 L590.2,529.6 L591.1,530.8 L592.0,532.0 L592.8,533.2 L593.7,534.4 L594.6,535.6 L595.6,536.8 L596.5,537.9 L597.5,539.1 L598.5,540.3 L599.5,541.4 L600.5,542.5 L601.5,543.7 L602.6,544.8 L603.6,545.9 L604.7,547.0 L605.8,548.0 L607.0,549.1 L608.1,550.1 L609.3,551.1 L610.4,552.1 L611.6,553.1 L612.9,554.0 L614.1,555.0 L615.3,555.9 L616.6,556.8 L617.9,557.6 L619.2,558.5 L620.6,559.3 L621.9,560.1 L623.3,560.8 L624.7,561.5 L626.1,562.2 L627.5,562.8 L628.9,563.4 L630.3,563.9 L631.8,564.3 L633.2,564.7 L634.6,564.9 L636.0,565.1 L637.4,565.2 L638.8,565.2 L640.2,565.1 L641.6,564.9 L643.0,564.5 L644.3,564.1 L645.6,563.6 L646.9,562.9 L648.2,562.2 L649.4,561.4 L650.6,560.6 L651.8,559.6 L653.0,558.6 L654.1,557.5 L655.2,556.4 L656.2,555.2 L657.3,554.0 L658.2,552.7 L659.2,551.4 L660.1,550.1 L660.9,548.7 L661.7,547.4 L662.5,545.9 L663.2,544.5 L663.9,543.1 L664.5,541.7 L665.1,540.3 L665.6,538.9 L666.1,537.5 L666.5,536.1 L666.8,534.7 L667.1,533.4 L667.3,532.1" fill="none" stroke="#000000" stroke-width="2.6" stroke-linecap="round" stroke-linejoin="round"/>
<path d="M409.7,577.1 L411.0,576.5 L412.3,575.8 L413.6,575.2 L414.9,574.5 L416.2,573.9 L417.5,573.2 L418.8,572.5 L420.2,571.8 L421.5,571.1 L422.8,570.5 L424.1,569.8 L425.5,569.0 L426.8,568.3 L428.1,567.6 L429.5,566.9 L430.8,566.1 L432.1,565.4 L433.4,564.7 L434.7,563.9 L436.1,563.1 L437.4,562.3 L438.7,561.6 L440.0,560.8 L441.3,560.0 L442.6,559.1 L443.8,558.3 L445.1,557.5 L446.4,556.6 L447.6,555.8 L448.9,554.9 L450.1,554.0 L451.4,553.1 L452.6,552.2 L453.8,551.3 L455.0,550.4 L456.2,549.4 L457.3,548.5 L458.5,547.5 L459.6,546.5 L460.8,545.5 L461.9,544.5 L463.0,543.5 L464.1,542.4 L465.1,541.4 L466.2,540.3 L467.2,539.2 L468.2,538.1 L469.2,537.0 L470.2,535.9 L471.2,534.7 L472.1,533.6 L473.1,532.4 L474.0,531.2 L474.9,530.0 L475.8,528.8 L476.7,527.6 L477.5,526.4 L478.4,525.2 L479.2,523.9 L480.1,522.7 L480.9,521.4 L481.7,520.2 L482.6,518.9 L483.4,517.6 L484.2,516.3 L485.0,515.0 L485.7,513.8 L486.5,512.5 L487.3,511.2 L488.1,509.9 L488.8,508.6 L489.6,507.2 L490.4,505.9 L491.1,504.6 L491.9,503.3 L492.6,502.0 L493.4,500.7 L494.1,499.4 L494.9,498.1 L495.7,496.8 L496.4,495.5 L497.2,494.2 L497.9,492.9 L498.7,491.6 L499.5,490.3 L500.2,489.0 L501.0,487.7 L501.8,486.4 L502.6,485.2 L503.3,483.9 L504.1,482.6 L504.9,481.3 L505.7,480.0 L506.5,478.8 L507.2,477.5 L508.0,476.2 L508.8,474.9 L509.6,473.7 L510.3,472.4 L511.1,471.1 L511.9,469.8 L512.7,468.5 L513.5,467.3 L514.2,466.0 L515.0,464.7 L515.8,463.4 L516.5,462.1 L517.3,460.8 L518.1,459.5 L518.8,458.2 L519.6,456.9 L520.3,455.6 L521.1,454.3 L521.8,453.0 L522.6,451.6 L523.3,450.3 L524.1,449.0 L524.8,447.6 L525.5,446.3 L526.3,445.0 L527.0,443.6 L527.7,442.2 L528.4,440.9 L529.2,439.5 L529.9,438.2 L530.7,436.9 L531.4,435.5 L532.2,434.2 L533.1,432.9 L533.9,431.7 L534.8,430.5 L535.7,429.3 L536.7,428.1 L537.7,427.0 L538.8,425.9 L539.9,424.8 L541.1,423.8 L542.3,422.9 L543.6,422.0 L544.9,421.3 L546.2,420.6 L547.5,420.0 L548.9,419.5 L550.3,419.2 L551.6,419.0 L553.0,419.0 L554.3,419.1 L555.7,419.4 L557.0,419.8 L558.2,420.4 L559.5,421.1 L560.7,421.9 L561.9,422.8 L563.1,423.7 L564.2,424.8 L565.3,425.9 L566.4,427.0 L567.4,428.2 L568.4,429.4 L569.4,430.7 L570.3,431.9 L571.2,433.2 L572.0,434.4 L572.8,435.7 L573.6,437.0 L574.4,438.3 L575.1,439.6 L575.8,441.0 L576.5,442.3 L577.2,443.6 L577.8,445.0 L578.5,446.4 L579.1,447.7 L579.7,449.1 L580.3,450.5 L580.9,451.9 L581.4,453.3 L582.0,454.7 L582.6,456.1 L583.1,457.5 L583.7,458.9 L584.2,460.3 L584.8,461.7 L585.3,463.1 L585.9,464.5 L586.4,465.9 L587.0,467.3 L587.5,468.8 L588.0,470.2 L588.6,471.6 L589.1,473.0 L589.7,474.4 L590.2,475.9 L590.7,477.3 L591.3,478.7 L591.8,480.1 L592.3,481.5 L592.9,483.0 L593.4,484.4 L593.9,485.8 L594.5,487.2 L595.0,488.6 L595.5,490.0 L596.1,491.4 L596.6,492.9 L597.2,494.3 L597.7,495.7 L598.3,497.1 L598.9,498.5 L599.4,499.8 L600.0,501.2 L600.6,502.6 L601.1,504.0 L601.7,505.4 L602.3,506.8 L602.9,508.1 L603.5,509.5 L604.1,510.8 L604.7,512.2 L605.3,513.5 L606.0,514.9 L606.6,516.2 L607.2,517.6 L607.9,518.9 L608.5,520.2 L609.2,521.5 L609.8,522.9 L610.5,524.2 L611.2,525.5 L611.9,526.8 L612.6,528.1 L613.3,529.5 L614.0,530.8 L614.7,532.1 L615.5,533.4 L616.2,534.8 L617.0,536.1 L617.7,537.5 L618.5,538.8 L619.3,540.2 L620.1,541.6 L620.9,543.0 L621.7,544.3 L622.6,545.7 L623.4,547.0 L624.3,548.3 L625.2,549.6 L626.1,550.9 L627.1,552.1 L628.1,553.3 L629.1,554.4 L630.1,555.5 L631.2,556.5 L632.3,557.4 L633.4,558.3 L634.6,559.1 L635.8,559.9 L637.1,560.5 L638.4,561.1 L639.7,561.5 L641.1,561.9 L642.5,562.2 L643.9,562.3 L645.3,562.4 L646.8,562.4 L648.2,562.3 L649.6,562.1 L651.1,561.8 L652.5,561.3 L653.9,560.8 L655.2,560.2 L656.5,559.4 L657.8,558.6 L659.1,557.7 L660.3,556.7 L661.5,555.6 L662.6,554.5 L663.7,553.3 L664.7,552.1 L665.7,550.9 L666.6,549.7 L667.4,548.4 L668.2,547.2" fill="none" stroke="#dd1818" stroke-width="2.6" stroke-linecap="round" stroke-linejoin="round"/>
<path d="M409.1,556.7 L410.4,556.0 L411.7,555.3 L413.1,554.6 L414.4,553.8 L415.7,553.1 L417.0,552.4 L418.3,551.7 L419.7,550.9 L421.0,550.2 L422.3,549.4 L423.6,548.6 L424.9,547.9 L426.2,547.1 L427.5,546.3 L428.8,545.5 L430.1,544.7 L431.3,543.9 L432.6,543.1 L433.9,542.3 L435.2,541.5 L436.4,540.7 L437.7,539.8 L439.0,539.0 L440.2,538.2 L441.5,537.3 L442.7,536.5 L443.9,535.6 L445.2,534.7 L446.4,533.8 L447.6,533.0 L448.9,532.1 L450.1,531.2 L451.3,530.3 L452.5,529.3 L453.7,528.4 L454.9,527.5 L456.1,526.6 L457.2,525.6 L458.4,524.7 L459.6,523.7 L460.7,522.8 L461.9,521.8 L463.0,520.8 L464.2,519.8 L465.3,518.8 L466.5,517.8 L467.6,516.8 L468.7,515.8 L469.8,514.8 L470.9,513.8 L472.0,512.8 L473.1,511.7 L474.1,510.7 L475.2,509.6 L476.3,508.5 L477.3,507.5 L478.4,506.4 L479.4,505.3 L480.4,504.2 L481.4,503.1 L482.4,502.0 L483.4,500.9 L484.4,499.8 L485.4,498.6 L486.4,497.5 L487.4,496.3 L488.3,495.2 L489.3,494.0 L490.2,492.8 L491.1,491.7 L492.0,490.5 L492.9,489.3 L493.8,488.1 L494.7,486.9 L495.6,485.6 L496.5,484.4 L497.3,483.2 L498.2,481.9 L499.0,480.7 L499.8,479.4 L500.6,478.2 L501.4,476.9 L502.2,475.6 L503.0,474.3 L503.8,473.0 L504.5,471.7 L505.3,470.4 L506.1,469.1 L506.8,467.8 L507.6,466.5 L508.3,465.2 L509.1,463.8 L509.8,462.5 L510.6,461.2 L511.3,459.9 L512.1,458.6 L512.8,457.3 L513.6,456.0 L514.4,454.7 L515.1,453.4 L515.9,452.1 L516.7,450.8 L517.5,449.5 L518.3,448.2 L519.2,447.0 L520.0,445.7 L520.9,444.5 L521.7,443.2 L522.6,442.0 L523.5,440.8 L524.5,439.6 L525.4,438.4 L526.4,437.2 L527.3,436.0 L528.3,434.9 L529.3,433.8 L530.4,432.7 L531.4,431.6 L532.5,430.5 L533.6,429.4 L534.7,428.4 L535.8,427.3 L537.0,426.3 L538.2,425.3 L539.4,424.4 L540.6,423.4 L541.8,422.5 L543.1,421.6 L544.4,420.8 L545.6,420.0 L547.0,419.4 L548.3,418.8 L549.6,418.3 L551.0,417.9 L552.4,417.7 L553.8,417.6 L555.2,417.6 L556.6,417.8 L558.0,418.0 L559.4,418.4 L560.8,418.9 L562.2,419.5 L563.6,420.2 L564.9,421.0 L566.2,421.8 L567.4,422.7 L568.6,423.7 L569.8,424.7 L570.9,425.8 L571.9,426.9 L572.9,428.0 L573.8,429.2 L574.7,430.4 L575.5,431.7 L576.4,432.9 L577.1,434.2 L577.9,435.6 L578.6,436.9 L579.3,438.2 L580.0,439.6 L580.6,441.0 L581.3,442.4 L581.9,443.8 L582.6,445.2 L583.2,446.5 L583.8,447.9 L584.5,449.3 L585.1,450.7 L585.7,452.1 L586.3,453.5 L586.9,454.9 L587.5,456.3 L588.1,457.7 L588.7,459.0 L589.4,460.4 L590.0,461.8 L590.6,463.2 L591.2,464.6 L591.7,466.0 L592.3,467.4 L592.9,468.8 L593.5,470.1 L594.1,471.5 L594.7,472.9 L595.3,474.3 L595.9,475.7 L596.5,477.1 L597.1,478.5 L597.6,479.8 L598.2,481.2 L598.8,482.6 L599.4,484.0 L600.0,485.4 L600.5,486.8 L601.1,488.1 L601.7,489.5 L602.3,490.9 L602.9,492.3 L603.5,493.7 L604.0,495.1 L604.6,496.4 L605.2,497.8 L605.8,499.2 L606.4,500.6 L607.0,502.0 L607.5,503.4 L608.1,504.7 L608.7,506.1 L609.3,507.5 L609.9,508.9 L610.5,510.3 L611.1,511.7 L611.7,513.0 L612.3,514.4 L612.9,515.8 L613.5,517.2 L614.1,518.5 L614.8,519.9 L615.4,521.3 L616.1,522.6 L616.7,524.0 L617.4,525.4 L618.1,526.7 L618.7,528.1 L619.4,529.4 L620.1,530.7 L620.9,532.1 L621.6,533.4 L622.4,534.7 L623.1,536.0 L623.9,537.3 L624.7,538.6 L625.5,539.9 L626.3,541.2 L627.1,542.5 L628.0,543.8 L628.9,545.1 L629.8,546.3 L630.7,547.6 L631.6,548.8 L632.6,550.0 L633.6,551.3 L634.6,552.5 L635.6,553.6 L636.6,554.7 L637.7,555.8 L638.8,556.8 L639.9,557.7 L641.1,558.6 L642.3,559.4 L643.5,560.1 L644.8,560.7 L646.0,561.1 L647.4,561.5 L648.7,561.7 L650.1,561.8 L651.5,561.8 L653.0,561.6 L654.4,561.3 L655.9,560.8 L657.3,560.3 L658.7,559.6 L660.1,558.9 L661.4,558.0 L662.6,557.0 L663.8,555.9 L664.9,554.8 L666.0,553.5 L666.9,552.2 L667.7,550.8 L668.4,549.3" fill="none" stroke="#0c0cd8" stroke-width="2.6" stroke-linecap="round" stroke-linejoin="round"/>
<path d="M409.4,586.5 L410.9,586.4 L412.4,586.3 L413.9,586.1 L415.4,585.9 L416.9,585.6 L418.3,585.4 L419.8,585.1 L421.3,584.8 L422.7,584.4 L424.2,584.1 L425.6,583.7 L427.1,583.2 L428.5,582.8 L430.0,582.3 L431.4,581.8 L432.8,581.3 L434.2,580.7 L435.6,580.1 L437.0,579.5 L438.3,578.9 L439.7,578.3 L441.0,577.6 L442.4,576.9 L443.7,576.1 L445.0,575.4 L446.3,574.6 L447.6,573.8 L448.8,573.0 L450.1,572.1 L451.3,571.3 L452.5,570.4 L453.7,569.5 L454.9,568.5 L456.0,567.6 L457.2,566.6 L458.3,565.6 L459.4,564.6 L460.5,563.6 L461.6,562.5 L462.6,561.4 L463.7,560.4 L464.7,559.3 L465.7,558.2 L466.7,557.0 L467.7,555.9 L468.7,554.8 L469.6,553.6 L470.6,552.4 L471.5,551.3 L472.5,550.1 L473.4,548.9 L474.3,547.7 L475.2,546.4 L476.0,545.2 L476.9,544.0 L477.8,542.8 L478.6,541.5 L479.4,540.3 L480.3,539.0 L481.1,537.8 L481.9,536.5 L482.7,535.2 L483.5,533.9 L484.2,532.6 L485.0,531.4 L485.8,530.1 L486.5,528.8 L487.3,527.4 L488.0,526.1 L488.7,524.8 L489.4,523.5 L490.1,522.2 L490.8,520.8 L491.5,519.5 L492.2,518.2 L492.9,516.8 L493.5,515.5 L494.2,514.1 L494.8,512.7 L495.5,511.4 L496.1,510.0 L496.8,508.6 L497.4,507.3 L498.0,505.9 L498.6,504.5 L499.2,503.1 L499.8,501.8 L500.4,500.4 L501.0,499.0 L501.6,497.6 L502.1,496.2 L502.7,494.8 L503.3,493.4 L503.8,492.0 L504.4,490.6 L504.9,489.2 L505.5,487.8 L506.0,486.4 L506.6,485.0 L507.1,483.6 L507.6,482.2 L508.2,480.7 L508.7,479.3 L509.2,477.9 L509.8,476.5 L510.3,475.1 L510.8,473.7 L511.3,472.3 L511.9,470.9 L512.4,469.5 L512.9,468.0 L513.4,466.6 L514.0,465.2 L514.5,463.8 L515.0,462.4 L515.6,461.0 L516.1,459.6 L516.6,458.2 L517.2,456.8 L517.7,455.4 L518.3,454.0 L518.8,452.6 L519.4,451.2 L519.9,449.8 L520.5,448.4 L521.1,447.0 L521.6,445.6 L522.2,444.2 L522.8,442.9 L523.4,441.5 L524.0,440.1 L524.6,438.7 L525.2,437.4 L525.8,436.0 L526.5,434.6 L527.1,433.3 L527.8,431.9 L528.4,430.6 L529.1,429.2 L529.8,427.9 L530.5,426.6 L531.2,425.2 L531.9,423.9 L532.6,422.6 L533.3,421.3 L534.1,420.0 L534.9,418.7 L535.7,417.4 L536.5,416.1 L537.3,414.8 L538.2,413.6 L539.1,412.3 L540.0,411.1 L541.0,409.8 L541.9,408.6 L542.9,407.4 L543.9,406.3 L545.0,405.2 L546.1,404.1 L547.2,403.1 L548.3,402.2 L549.5,401.3 L550.8,400.6 L552.0,399.9 L553.3,399.4 L554.6,399.0 L556.0,398.7 L557.4,398.6 L558.9,398.6 L560.3,398.7 L561.8,399.0 L563.3,399.3 L564.8,399.8 L566.2,400.4 L567.7,401.0 L569.0,401.8 L570.4,402.6 L571.7,403.5 L572.9,404.4 L574.1,405.4 L575.2,406.5 L576.2,407.5 L577.2,408.7 L578.1,409.9 L579.0,411.1 L579.8,412.3 L580.6,413.6 L581.3,414.9 L582.0,416.2 L582.7,417.5 L583.4,418.9 L584.0,420.3 L584.6,421.7 L585.2,423.0 L585.9,424.4 L586.5,425.8 L587.1,427.2 L587.7,428.6 L588.3,430.0 L588.9,431.4 L589.5,432.8 L590.0,434.1 L590.6,435.5 L591.2,436.9 L591.8,438.3 L592.4,439.7 L593.0,441.0 L593.6,442.4 L594.2,443.8 L594.8,445.2 L595.4,446.5 L596.0,447.9 L596.6,449.3 L597.1,450.7 L597.7,452.1 L598.3,453.4 L598.9,454.8 L599.4,456.2 L600.0,457.6 L600.6,459.0 L601.2,460.3 L601.7,461.7 L602.3,463.1 L602.8,464.5 L603.4,465.9 L604.0,467.3 L604.5,468.7 L605.1,470.1 L605.6,471.5 L606.1,472.9 L606.7,474.3 L607.2,475.7 L607.7,477.1 L608.3,478.5 L608.8,479.9 L609.3,481.4 L609.8,482.8 L610.3,484.2 L610.8,485.6 L611.3,487.1 L611.8,488.5 L612.3,489.9 L612.8,491.4 L613.3,492.8 L613.8,494.3 L614.3,495.7 L614.8,497.1 L615.3,498.6 L615.8,500.0 L616.3,501.5 L616.9,502.9 L617.4,504.3 L617.9,505.7 L618.4,507.2 L619.0,508.6 L619.5,510.0 L620.1,511.4 L620.7,512.8 L621.2,514.2 L621.8,515.6 L622.4,517.0 L623.1,518.4 L623.7,519.7 L624.3,521.1 L625.0,522.4 L625.7,523.8 L626.4,525.1 L627.1,526.4 L627.8,527.7 L628.6,529.0 L629.4,530.3 L630.2,531.5 L631.0,532.8 L631.8,534.0 L632.7,535.3 L633.6,536.5 L634.5,537.7 L635.4,538.8 L636.4,540.0 L637.4,541.1 L638.4,542.3 L639.5,543.4 L640.6,544.4 L641.7,545.5 L642.8,546.5 L644.0,547.4 L645.1,548.2 L646.4,549.0 L647.6,549.6 L648.8,550.1 L650.1,550.4 L651.4,550.6 L652.7,550.6 L654.0,550.5 L655.3,550.1 L656.7,549.5 L658.0,548.7 L659.3,547.7 L660.6,546.6 L661.8,545.4 L662.9,544.0 L664.0,542.6 L664.9,541.1 L665.7,539.6 L666.4,538.0 L666.9,536.5 L667.3,535.0 L667.4,533.5 L667.3,532.2 L667.1,530.9" fill="none" stroke="#e412e8" stroke-width="2.6" stroke-linecap="round" stroke-linejoin="round"/>
<path d="M409.3,584.8 L410.9,584.7 L412.4,584.6 L413.9,584.4 L415.4,584.2 L416.9,584.0 L418.4,583.8 L419.9,583.5 L421.4,583.2 L422.9,582.9 L424.3,582.6 L425.8,582.2 L427.3,581.8 L428.7,581.4 L430.2,580.9 L431.6,580.5 L433.0,580.0 L434.5,579.4 L435.9,578.9 L437.3,578.3 L438.7,577.7 L440.0,577.1 L441.4,576.5 L442.8,575.8 L444.1,575.1 L445.4,574.4 L446.8,573.7 L448.1,572.9 L449.4,572.1 L450.7,571.4 L451.9,570.5 L453.2,569.7 L454.4,568.8 L455.6,568.0 L456.8,567.0 L458.0,566.1 L459.2,565.2 L460.3,564.2 L461.5,563.2 L462.6,562.3 L463.7,561.2 L464.8,560.2 L465.8,559.1 L466.9,558.1 L467.9,557.0 L468.9,555.9 L469.9,554.8 L470.9,553.6 L471.8,552.5 L472.7,551.3 L473.6,550.1 L474.5,548.9 L475.4,547.7 L476.2,546.5 L477.0,545.2 L477.9,544.0 L478.7,542.7 L479.4,541.4 L480.2,540.1 L481.0,538.8 L481.7,537.5 L482.4,536.2 L483.2,534.9 L483.9,533.5 L484.5,532.2 L485.2,530.8 L485.9,529.5 L486.5,528.1 L487.2,526.7 L487.8,525.3 L488.4,523.9 L489.1,522.6 L489.7,521.2 L490.3,519.8 L490.9,518.4 L491.5,516.9 L492.1,515.5 L492.6,514.1 L493.2,512.7 L493.8,511.3 L494.3,509.9 L494.9,508.5 L495.4,507.0 L496.0,505.6 L496.6,504.2 L497.1,502.8 L497.6,501.4 L498.2,500.0 L498.7,498.5 L499.3,497.1 L499.8,495.7 L500.3,494.3 L500.9,492.9 L501.4,491.5 L501.9,490.1 L502.5,488.7 L503.0,487.3 L503.5,485.9 L504.1,484.5 L504.6,483.0 L505.1,481.6 L505.6,480.3 L506.2,478.9 L506.7,477.5 L507.2,476.1 L507.8,474.7 L508.3,473.3 L508.9,471.9 L509.4,470.5 L509.9,469.1 L510.5,467.8 L511.0,466.4 L511.6,465.0 L512.1,463.6 L512.6,462.2 L513.2,460.9 L513.7,459.5 L514.3,458.1 L514.8,456.7 L515.4,455.3 L515.9,453.9 L516.5,452.5 L517.0,451.1 L517.6,449.7 L518.1,448.3 L518.7,446.9 L519.2,445.5 L519.8,444.0 L520.4,442.6 L520.9,441.2 L521.5,439.8 L522.0,438.3 L522.6,436.9 L523.2,435.4 L523.8,434.0 L524.4,432.6 L525.0,431.2 L525.6,429.7 L526.2,428.3 L526.9,426.9 L527.5,425.5 L528.2,424.1 L528.8,422.8 L529.5,421.4 L530.3,420.0 L531.0,418.7 L531.7,417.4 L532.5,416.1 L533.3,414.8 L534.1,413.5 L534.9,412.3 L535.8,411.1 L536.7,409.9 L537.6,408.7 L538.5,407.6 L539.5,406.4 L540.5,405.3 L541.5,404.3 L542.6,403.2 L543.7,402.2 L544.8,401.2 L545.9,400.3 L547.1,399.4 L548.3,398.6 L549.6,397.8 L550.9,397.1 L552.2,396.6 L553.5,396.2 L554.8,396.0 L556.2,395.9 L557.6,396.0 L558.9,396.3 L560.3,396.8 L561.6,397.4 L562.9,398.1 L564.2,399.0 L565.4,400.0 L566.5,401.1 L567.6,402.2 L568.6,403.5 L569.6,404.7 L570.5,406.1 L571.3,407.4 L572.0,408.7 L572.8,410.1 L573.4,411.5 L574.1,412.9 L574.7,414.2 L575.3,415.6 L576.0,417.0 L576.6,418.4 L577.2,419.8 L577.8,421.2 L578.4,422.6 L579.0,423.9 L579.5,425.3 L580.1,426.7 L580.7,428.1 L581.2,429.5 L581.8,430.9 L582.4,432.3 L582.9,433.7 L583.5,435.1 L584.0,436.5 L584.5,437.9 L585.1,439.4 L585.6,440.8 L586.1,442.2 L586.6,443.6 L587.1,445.0 L587.6,446.4 L588.1,447.8 L588.6,449.2 L589.1,450.7 L589.6,452.1 L590.1,453.5 L590.6,454.9 L591.1,456.4 L591.5,457.8 L592.0,459.2 L592.5,460.6 L593.0,462.1 L593.4,463.5 L593.9,464.9 L594.3,466.4 L594.8,467.8 L595.3,469.2 L595.7,470.7 L596.2,472.1 L596.6,473.5 L597.0,475.0 L597.5,476.4 L597.9,477.9 L598.4,479.3 L598.8,480.8 L599.2,482.2 L599.7,483.7 L600.1,485.1 L600.5,486.6 L601.0,488.0 L601.4,489.5 L601.8,490.9 L602.3,492.4 L602.7,493.8 L603.1,495.3 L603.6,496.7 L604.0,498.2 L604.4,499.6 L604.9,501.1 L605.3,502.5 L605.8,503.9 L606.3,505.4 L606.7,506.8 L607.2,508.3 L607.7,509.7 L608.2,511.1 L608.7,512.6 L609.2,514.0 L609.7,515.4 L610.2,516.8 L610.7,518.2 L611.3,519.6 L611.8,521.0 L612.4,522.4 L612.9,523.8 L613.5,525.2 L614.1,526.6 L614.7,527.9 L615.3,529.3 L616.0,530.7 L616.6,532.0 L617.3,533.4 L618.0,534.7 L618.7,536.0 L619.4,537.4 L620.1,538.7 L620.9,540.0 L621.6,541.3 L622.4,542.6 L623.2,543.8 L624.0,545.1 L624.9,546.4 L625.8,547.6 L626.6,548.8 L627.6,550.0 L628.5,551.2 L629.5,552.4 L630.5,553.6 L631.5,554.7 L632.6,555.8 L633.7,556.9 L634.8,557.9 L636.0,558.9 L637.2,559.8 L638.5,560.7 L639.7,561.6 L641.1,562.4 L642.4,563.1 L643.8,563.7 L645.1,564.2 L646.5,564.7 L648.0,565.0 L649.4,565.2 L650.8,565.4 L652.3,565.4 L653.7,565.2 L655.2,565.0 L656.6,564.6 L658.0,564.2 L659.4,563.6 L660.8,562.9 L662.1,562.2 L663.4,561.3 L664.6,560.3 L665.8,559.3 L666.9,558.1 L667.9,556.9 L668.9,555.6" fill="none" stroke="#0f760f" stroke-width="2.6" stroke-linecap="round" stroke-linejoin="round"/>
<path d="M409.4,582.7 L411.0,582.6 L412.5,582.4 L413.9,582.2 L415.4,581.9 L416.9,581.6 L418.3,581.2 L419.7,580.8 L421.1,580.3 L422.5,579.8 L423.9,579.3 L425.3,578.7 L426.6,578.2 L428.0,577.5 L429.4,576.9 L430.7,576.3 L432.1,575.6 L433.5,574.9 L434.8,574.2 L436.2,573.5 L437.5,572.8 L438.8,572.1 L440.2,571.3 L441.5,570.6 L442.8,569.8 L444.1,569.0 L445.4,568.2 L446.7,567.3 L447.9,566.5 L449.2,565.6 L450.4,564.7 L451.6,563.8 L452.8,562.9 L454.0,562.0 L455.1,561.0 L456.3,560.0 L457.4,559.0 L458.5,558.0 L459.5,557.0 L460.6,555.9 L461.6,554.8 L462.6,553.7 L463.6,552.6 L464.5,551.5 L465.4,550.4 L466.3,549.2 L467.2,548.0 L468.1,546.8 L469.0,545.6 L469.8,544.4 L470.6,543.2 L471.4,541.9 L472.2,540.7 L473.0,539.4 L473.7,538.1 L474.4,536.8 L475.2,535.5 L475.9,534.2 L476.6,532.8 L477.3,531.5 L477.9,530.2 L478.6,528.8 L479.3,527.4 L479.9,526.1 L480.5,524.7 L481.2,523.3 L481.8,521.9 L482.4,520.5 L483.0,519.1 L483.6,517.7 L484.2,516.3 L484.8,514.9 L485.4,513.5 L485.9,512.1 L486.5,510.7 L487.1,509.3 L487.7,507.8 L488.2,506.4 L488.8,505.0 L489.4,503.6 L489.9,502.2 L490.5,500.8 L491.1,499.4 L491.7,497.9 L492.2,496.5 L492.8,495.1 L493.4,493.7 L494.0,492.3 L494.5,490.9 L495.1,489.5 L495.7,488.1 L496.3,486.7 L496.9,485.3 L497.4,484.0 L498.0,482.6 L498.6,481.2 L499.2,479.8 L499.8,478.4 L500.3,477.0 L500.9,475.6 L501.5,474.2 L502.1,472.9 L502.7,471.5 L503.3,470.1 L503.8,468.7 L504.4,467.3 L505.0,465.9 L505.6,464.6 L506.2,463.2 L506.8,461.8 L507.3,460.4 L507.9,459.0 L508.5,457.7 L509.1,456.3 L509.7,454.9 L510.2,453.5 L510.8,452.2 L511.4,450.8 L512.0,449.4 L512.5,448.0 L513.1,446.7 L513.7,445.3 L514.3,443.9 L514.9,442.5 L515.4,441.1 L516.0,439.8 L516.6,438.4 L517.1,437.0 L517.7,435.6 L518.3,434.2 L518.8,432.9 L519.4,431.5 L520.0,430.1 L520.6,428.7 L521.1,427.3 L521.7,426.0 L522.3,424.6 L522.9,423.2 L523.5,421.8 L524.1,420.5 L524.8,419.1 L525.4,417.7 L526.0,416.4 L526.7,415.0 L527.4,413.7 L528.1,412.3 L528.8,411.0 L529.5,409.6 L530.3,408.3 L531.0,407.0 L531.8,405.7 L532.6,404.4 L533.5,403.0 L534.3,401.7 L535.2,400.4 L536.1,399.2 L537.1,397.9 L538.0,396.6 L539.0,395.4 L540.0,394.2 L541.1,393.1 L542.2,392.0 L543.3,390.9 L544.5,390.0 L545.6,389.1 L546.9,388.3 L548.1,387.6 L549.4,386.9 L550.8,386.4 L552.1,386.0 L553.5,385.7 L554.9,385.6 L556.4,385.5 L557.8,385.5 L559.3,385.6 L560.7,385.9 L562.1,386.2 L563.5,386.6 L564.9,387.1 L566.3,387.7 L567.6,388.4 L568.8,389.2 L570.1,390.1 L571.2,391.0 L572.3,392.0 L573.3,393.1 L574.3,394.3 L575.2,395.5 L576.1,396.8 L576.9,398.1 L577.7,399.4 L578.4,400.8 L579.2,402.2 L579.9,403.6 L580.6,405.0 L581.2,406.3 L581.9,407.7 L582.6,409.0 L583.3,410.4 L583.9,411.8 L584.6,413.1 L585.2,414.5 L585.8,415.8 L586.4,417.2 L587.0,418.6 L587.6,419.9 L588.2,421.3 L588.8,422.7 L589.3,424.1 L589.9,425.5 L590.4,426.9 L591.0,428.3 L591.5,429.7 L592.0,431.1 L592.5,432.5 L593.0,433.9 L593.5,435.3 L594.0,436.8 L594.5,438.2 L595.0,439.6 L595.4,441.0 L595.9,442.5 L596.4,443.9 L596.8,445.4 L597.3,446.8 L597.7,448.2 L598.2,449.7 L598.6,451.1 L599.1,452.6 L599.5,454.0 L599.9,455.5 L600.4,456.9 L600.8,458.4 L601.2,459.8 L601.7,461.3 L602.1,462.7 L602.5,464.1 L603.0,465.6 L603.4,467.0 L603.8,468.5 L604.3,469.9 L604.7,471.4 L605.1,472.8 L605.6,474.3 L606.0,475.7 L606.5,477.1 L606.9,478.6 L607.4,480.0 L607.8,481.4 L608.3,482.9 L608.8,484.3 L609.2,485.7 L609.7,487.1 L610.2,488.6 L610.7,490.0 L611.2,491.4 L611.7,492.8 L612.2,494.2 L612.7,495.6 L613.2,497.0 L613.7,498.4 L614.2,499.8 L614.7,501.2 L615.2,502.6 L615.8,504.0 L616.3,505.4 L616.8,506.8 L617.4,508.2 L617.9,509.6 L618.5,511.0 L619.0,512.4 L619.6,513.8 L620.1,515.3 L620.7,516.7 L621.2,518.1 L621.8,519.5 L622.3,520.9 L622.9,522.3 L623.5,523.7 L624.0,525.1 L624.6,526.6 L625.2,528.0 L625.8,529.4 L626.4,530.8 L627.0,532.2 L627.6,533.6 L628.2,535.0 L628.9,536.4 L629.6,537.8 L630.3,539.1 L631.0,540.4 L631.8,541.7 L632.6,543.0 L633.4,544.3 L634.3,545.5 L635.3,546.7 L636.2,547.9 L637.3,549.0 L638.3,550.1 L639.5,551.1 L640.6,552.1 L641.8,553.0 L643.1,553.8 L644.3,554.6 L645.6,555.2 L646.9,555.8 L648.3,556.2 L649.6,556.6 L651.0,556.8 L652.3,556.8 L653.7,556.7 L655.0,556.5 L656.3,556.1 L657.6,555.5 L658.9,554.8 L660.2,554.0 L661.4,553.0 L662.6,551.9 L663.7,550.7 L664.8,549.4 L665.8,548.1 L666.7,546.7 L667.5,545.2 L668.3,543.7" fill="none" stroke="#08086e" stroke-width="2.6" stroke-linecap="round" stroke-linejoin="round"/>
<rect x="388.0" y="364.0" width="293.0" height="252.0" fill="none" stroke="#262626" stroke-width="1.3"/>
<text class="t" x="388.6" y="367.0" text-anchor="end">70</text>
<text class="t" x="388.6" y="398.5" text-anchor="end">60</text>
<text class="t" x="388.6" y="430.0" text-anchor="end">50</text>
<text class="t" x="388.6" y="461.5" text-anchor="end">40</text>
<text class="t" x="388.6" y="493.0" text-anchor="end">30</text>
<text class="t" x="388.6" y="524.5" text-anchor="end">20</text>
<text class="t" x="388.6" y="556.0" text-anchor="end">10</text>
<text class="t" x="388.6" y="587.5" text-anchor="end">0</text>
<text class="t" x="388.6" y="619.0" text-anchor="end">-10</text>
<text class="t" x="409.8" y="622.7" text-anchor="middle">-1</text>
<text class="t" x="452.7" y="622.7" text-anchor="middle">0</text>
<text class="t" x="495.6" y="622.7" text-anchor="middle">1</text>
<text class="t" x="538.5" y="622.7" text-anchor="middle">2</text>
<text class="t" x="581.4" y="622.7" text-anchor="middle">3</text>
<text class="t" x="624.3" y="622.7" text-anchor="middle">4</text>
<text class="t" x="667.2" y="622.7" text-anchor="middle">5</text>
<text class="ax" x="538.4" y="640.5" text-anchor="middle">log (Freq/Hz)</text>
<text class="ax" transform="translate(360.0,491.4) rotate(-90)" text-anchor="middle">Phase</text>
<text class="ab" x="393.0" y="383.5">(b)</text>
<rect x="391.0" y="396.7" width="80.8" height="85.3" fill="#fff" stroke="#8a8a8a" stroke-width="1"/>
<line x1="395.9" y1="404.6" x2="421.2" y2="404.6" stroke="#000000" stroke-width="2.9" stroke-linecap="round"/>
<text class="lg" style="font-size:11.2px" x="424.6" y="408.6">Blank</text>
<line x1="395.9" y1="419.2" x2="421.2" y2="419.2" stroke="#dd1818" stroke-width="2.9" stroke-linecap="round"/>
<text class="lg" style="font-size:11.2px" x="424.6" y="423.2">100 ppm</text>
<line x1="395.9" y1="433.3" x2="421.2" y2="433.3" stroke="#0c0cd8" stroke-width="2.9" stroke-linecap="round"/>
<text class="lg" style="font-size:11.2px" x="424.6" y="437.3">200 ppm</text>
<line x1="395.9" y1="447.3" x2="421.2" y2="447.3" stroke="#e412e8" stroke-width="2.9" stroke-linecap="round"/>
<text class="lg" style="font-size:11.2px" x="424.6" y="451.3">300 ppm</text>
<line x1="395.9" y1="461.4" x2="421.2" y2="461.4" stroke="#0f760f" stroke-width="2.9" stroke-linecap="round"/>
<text class="lg" style="font-size:11.2px" x="424.6" y="465.4">400 ppm</text>
<line x1="395.9" y1="475.5" x2="421.2" y2="475.5" stroke="#08086e" stroke-width="2.9" stroke-linecap="round"/>
<text class="lg" style="font-size:11.2px" x="424.6" y="479.5">500 ppm</text>
</svg></body></html>
